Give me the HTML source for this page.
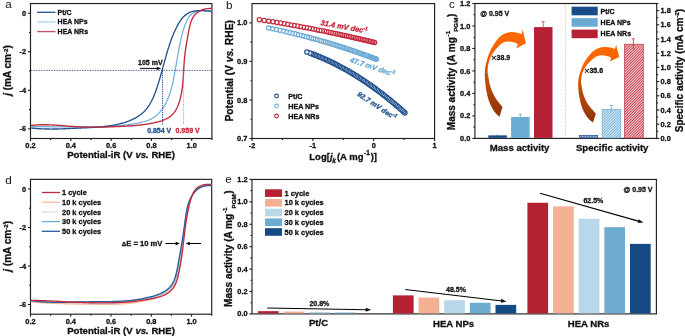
<!DOCTYPE html>
<html><head><meta charset="utf-8"><style>
html,body{margin:0;padding:0;background:#fff;width:685px;height:336px;overflow:hidden}
svg{display:block;will-change:transform}
text{font-family:"Liberation Sans", sans-serif}
text[font-weight="bold"]{stroke:currentColor;stroke-width:0.3px;stroke-linejoin:round}
</style></head><body>
<svg xmlns="http://www.w3.org/2000/svg" width="685" height="336" viewBox="0 0 685 336" font-family='"Liberation Sans", sans-serif'>
<rect width="685" height="336" fill="#fff"/>
<rect x="30.5" y="3.55" width="181.4" height="134.95" fill="none" stroke="#1f1f1f" stroke-width="1.15"/>
<line x1="27.9" y1="13.19" x2="30.5" y2="13.19" stroke="#1f1f1f" stroke-width="1.1" />
<text x="26.1" y="15.74" font-size="7.4" font-weight="bold" text-anchor="end" fill="#111" color="#111" >0</text>
<line x1="29" y1="32.47" x2="30.5" y2="32.47" stroke="#1f1f1f" stroke-width="1.1" />
<line x1="27.9" y1="51.75" x2="30.5" y2="51.75" stroke="#1f1f1f" stroke-width="1.1" />
<text x="26.1" y="54.3" font-size="7.4" font-weight="bold" text-anchor="end" fill="#111" color="#111" >-2</text>
<line x1="29" y1="71.02" x2="30.5" y2="71.02" stroke="#1f1f1f" stroke-width="1.1" />
<line x1="27.9" y1="90.3" x2="30.5" y2="90.3" stroke="#1f1f1f" stroke-width="1.1" />
<text x="26.1" y="92.85" font-size="7.4" font-weight="bold" text-anchor="end" fill="#111" color="#111" >-4</text>
<line x1="29" y1="109.58" x2="30.5" y2="109.58" stroke="#1f1f1f" stroke-width="1.1" />
<line x1="27.9" y1="128.86" x2="30.5" y2="128.86" stroke="#1f1f1f" stroke-width="1.1" />
<text x="26.1" y="131.41" font-size="7.4" font-weight="bold" text-anchor="end" fill="#111" color="#111" >-6</text>
<line x1="30.5" y1="138.5" x2="30.5" y2="141.1" stroke="#1f1f1f" stroke-width="1.1" />
<text x="30.5" y="148.1" font-size="7.4" font-weight="bold" text-anchor="middle" fill="#111" color="#111" >0.2</text>
<line x1="50.66" y1="138.5" x2="50.66" y2="140" stroke="#1f1f1f" stroke-width="1.1" />
<line x1="70.81" y1="138.5" x2="70.81" y2="141.1" stroke="#1f1f1f" stroke-width="1.1" />
<text x="70.81" y="148.1" font-size="7.4" font-weight="bold" text-anchor="middle" fill="#111" color="#111" >0.4</text>
<line x1="90.97" y1="138.5" x2="90.97" y2="140" stroke="#1f1f1f" stroke-width="1.1" />
<line x1="111.12" y1="138.5" x2="111.12" y2="141.1" stroke="#1f1f1f" stroke-width="1.1" />
<text x="111.12" y="148.1" font-size="7.4" font-weight="bold" text-anchor="middle" fill="#111" color="#111" >0.6</text>
<line x1="131.28" y1="138.5" x2="131.28" y2="140" stroke="#1f1f1f" stroke-width="1.1" />
<line x1="151.43" y1="138.5" x2="151.43" y2="141.1" stroke="#1f1f1f" stroke-width="1.1" />
<text x="151.43" y="148.1" font-size="7.4" font-weight="bold" text-anchor="middle" fill="#111" color="#111" >0.8</text>
<line x1="171.59" y1="138.5" x2="171.59" y2="140" stroke="#1f1f1f" stroke-width="1.1" />
<line x1="191.74" y1="138.5" x2="191.74" y2="141.1" stroke="#1f1f1f" stroke-width="1.1" />
<text x="191.74" y="148.1" font-size="7.4" font-weight="bold" text-anchor="middle" fill="#111" color="#111" >1.0</text>
<line x1="211.9" y1="138.5" x2="211.9" y2="140" stroke="#1f1f1f" stroke-width="1.1" />
<text x="121" y="158" font-size="9.6" font-weight="bold" text-anchor="middle" fill="#111" color="#111" >Potential-iR (V <tspan font-style="italic">vs.</tspan> RHE)</text>
<text transform="translate(11.4,70.5) rotate(-90)" font-size="10.0" font-weight="bold" text-anchor="middle" fill="#111" color="#111"><tspan font-style="italic">j</tspan> (mA cm<tspan font-size="6.2" dy="-3.8">-2</tspan><tspan dy="3.8">)</tspan></text>
<text x="5.2" y="8.4" font-size="11.6" font-weight="normal" text-anchor="start" fill="#111" color="#111" >a</text>
<line x1="37.1" y1="12.3" x2="55.5" y2="12.3" stroke="#24548f" stroke-width="1.3" />
<text x="57.6" y="14.8" font-size="7.0" font-weight="bold" text-anchor="start" fill="#111" color="#111" >Pt/C</text>
<line x1="37.1" y1="21.95" x2="55.5" y2="21.95" stroke="#a9d1ea" stroke-width="1.3" />
<text x="57.6" y="24.45" font-size="7.0" font-weight="bold" text-anchor="start" fill="#111" color="#111" >HEA NPs</text>
<line x1="37.1" y1="31.6" x2="55.5" y2="31.6" stroke="#cf4a5a" stroke-width="1.3" />
<text x="57.6" y="34.1" font-size="7.0" font-weight="bold" text-anchor="start" fill="#111" color="#111" >HEA NRs</text>
<path d="M31.10,126.51 L31.96,126.52 L32.82,126.53 L33.68,126.54 L34.54,126.55 L35.40,126.56 L36.26,126.58 L37.12,126.59 L37.98,126.60 L38.84,126.61 L39.70,126.62 L40.57,126.63 L41.43,126.64 L42.29,126.65 L43.15,126.67 L44.01,126.68 L44.87,126.69 L45.73,126.70 L46.59,126.71 L47.45,126.72 L48.31,126.73 L49.17,126.74 L50.04,126.75 L50.90,126.77 L51.76,126.78 L52.62,126.79 L53.48,126.80 L54.34,126.81 L55.20,126.82 L56.06,126.82 L56.92,126.83 L57.78,126.84 L58.65,126.85 L59.51,126.86 L60.37,126.87 L61.23,126.87 L62.09,126.88 L62.95,126.89 L63.81,126.89 L64.67,126.90 L65.53,126.91 L66.40,126.91 L67.26,126.92 L68.12,126.92 L68.98,126.92 L69.84,126.93 L70.70,126.93 L71.56,126.93 L72.42,126.93 L73.28,126.94 L74.14,126.94 L75.01,126.94 L75.87,126.94 L76.73,126.93 L77.59,126.93 L78.45,126.93 L79.31,126.93 L80.17,126.92 L81.03,126.92 L81.89,126.91 L82.75,126.91 L83.61,126.90 L84.47,126.89 L85.33,126.88 L86.19,126.88 L87.05,126.87 L87.91,126.86 L88.77,126.84 L89.63,126.83 L90.49,126.82 L91.35,126.81 L92.21,126.79 L93.07,126.77 L93.93,126.76 L94.79,126.74 L95.65,126.72 L96.51,126.70 L97.37,126.68 L98.23,126.66 L99.09,126.64 L99.95,126.62 L100.81,126.59 L101.67,126.57 L102.53,126.54 L103.39,126.51 L104.24,126.48 L105.10,126.45 L105.96,126.42 L106.82,126.38 L107.68,126.35 L108.54,126.31 L109.40,126.27 L110.25,126.22 L111.11,126.18 L111.97,126.13 L112.83,126.08 L113.69,126.03 L114.54,125.98 L115.40,125.92 L116.26,125.86 L117.12,125.79 L117.97,125.73 L118.83,125.66 L119.69,125.59 L120.55,125.51 L121.40,125.43 L122.26,125.35 L123.12,125.26 L123.97,125.17 L124.83,125.07 L125.68,124.97 L126.54,124.87 L127.40,124.77 L128.25,124.65 L129.11,124.54 L129.96,124.42 L130.82,124.29 L131.68,124.16 L132.53,124.03 L133.39,123.89 L134.24,123.75 L135.10,123.60 L135.95,123.44 L136.81,123.28 L137.66,123.12 L138.52,122.95 L139.37,122.77 L140.22,122.59 L141.07,122.40 L141.92,122.20 L142.77,121.99 L143.61,121.77 L144.45,121.54 L145.28,121.29 L146.10,121.03 L146.92,120.76 L147.73,120.47 L148.52,120.16 L149.31,119.83 L150.09,119.49 L150.86,119.12 L151.61,118.74 L152.35,118.33 L153.08,117.89 L153.79,117.43 L154.49,116.96 L155.17,116.46 L155.84,115.93 L156.49,115.39 L157.13,114.84 L157.76,114.26 L158.37,113.67 L158.97,113.06 L159.55,112.43 L160.11,111.80 L160.67,111.15 L161.20,110.48 L161.73,109.81 L162.23,109.13 L162.73,108.44 L163.21,107.73 L163.67,107.02 L164.12,106.30 L164.56,105.58 L164.99,104.84 L165.40,104.09 L165.80,103.34 L166.19,102.58 L166.57,101.82 L166.93,101.04 L167.29,100.26 L167.63,99.48 L167.96,98.69 L168.28,97.89 L168.60,97.09 L168.90,96.28 L169.19,95.47 L169.48,94.65 L169.76,93.83 L170.02,93.00 L170.29,92.18 L170.54,91.34 L170.78,90.51 L171.02,89.67 L171.25,88.83 L171.48,87.99 L171.70,87.14 L171.91,86.29 L172.12,85.45 L172.32,84.60 L172.52,83.75 L172.71,82.90 L172.90,82.04 L173.08,81.19 L173.27,80.34 L173.44,79.49 L173.62,78.64 L173.79,77.79 L173.96,76.94 L174.12,76.09 L174.29,75.24 L174.45,74.39 L174.60,73.55 L174.76,72.70 L174.91,71.85 L175.07,71.00 L175.22,70.15 L175.36,69.31 L175.51,68.46 L175.66,67.61 L175.80,66.77 L175.95,65.92 L176.09,65.07 L176.23,64.23 L176.37,63.38 L176.52,62.54 L176.66,61.69 L176.80,60.85 L176.94,60.00 L177.08,59.16 L177.23,58.32 L177.37,57.47 L177.51,56.63 L177.66,55.78 L177.80,54.94 L177.95,54.10 L178.10,53.26 L178.25,52.41 L178.40,51.57 L178.56,50.73 L178.71,49.89 L178.87,49.04 L179.03,48.20 L179.19,47.36 L179.36,46.52 L179.53,45.68 L179.70,44.84 L179.87,44.00 L180.05,43.16 L180.23,42.31 L180.42,41.47 L180.61,40.63 L180.80,39.79 L181.00,38.95 L181.20,38.11 L181.40,37.27 L181.61,36.43 L181.83,35.60 L182.05,34.76 L182.27,33.92 L182.50,33.08 L182.74,32.24 L182.98,31.40 L183.22,30.56 L183.48,29.72 L183.73,28.88 L184.00,28.05 L184.27,27.21 L184.55,26.37 L184.83,25.53 L185.13,24.71 L185.43,23.88 L185.75,23.07 L186.08,22.26 L186.43,21.47 L186.79,20.70 L187.17,19.94 L187.56,19.20 L187.98,18.48 L188.42,17.78 L188.88,17.11 L189.36,16.46 L189.87,15.85 L190.41,15.26 L190.97,14.71 L191.56,14.19 L192.18,13.71 L192.83,13.26 L193.52,12.86 L194.23,12.49 L194.97,12.17 L195.74,11.88 L196.53,11.62 L197.34,11.40 L198.18,11.21 L199.03,11.05 L199.90,10.92 L200.78,10.82 L201.67,10.75 L202.58,10.71 L203.49,10.69 L204.41,10.69 L205.33,10.72 L206.25,10.77 L207.18,10.84 L208.10,10.93 L209.02,11.03 L209.93,11.16 L210.84,11.30 L211.74,11.45" fill="none" stroke="#6fb0da" stroke-width="1.25"/>
<path d="M31.10,127.95 L31.94,128.05 L32.77,128.14 L33.61,128.23 L34.44,128.32 L35.28,128.39 L36.11,128.47 L36.95,128.54 L37.78,128.60 L38.62,128.66 L39.45,128.71 L40.29,128.76 L41.12,128.81 L41.96,128.85 L42.80,128.88 L43.63,128.92 L44.47,128.95 L45.30,128.97 L46.14,128.99 L46.98,129.01 L47.81,129.02 L48.65,129.04 L49.49,129.04 L50.32,129.05 L51.16,129.05 L51.99,129.05 L52.83,129.04 L53.67,129.03 L54.50,129.02 L55.34,129.01 L56.18,129.00 L57.01,128.98 L57.85,128.96 L58.69,128.94 L59.52,128.92 L60.36,128.89 L61.20,128.86 L62.03,128.84 L62.87,128.81 L63.71,128.77 L64.54,128.74 L65.38,128.71 L66.21,128.67 L67.05,128.64 L67.89,128.60 L68.72,128.56 L69.56,128.52 L70.39,128.49 L71.23,128.45 L72.06,128.41 L72.90,128.37 L73.73,128.33 L74.57,128.29 L75.40,128.25 L76.24,128.21 L77.07,128.17 L77.91,128.13 L78.74,128.09 L79.58,128.06 L80.41,128.02 L81.24,127.99 L82.08,127.95 L82.91,127.91 L83.74,127.88 L84.58,127.84 L85.41,127.81 L86.24,127.77 L87.08,127.73 L87.91,127.70 L88.74,127.66 L89.57,127.62 L90.40,127.58 L91.24,127.53 L92.07,127.49 L92.90,127.44 L93.73,127.39 L94.56,127.34 L95.39,127.29 L96.23,127.23 L97.06,127.18 L97.89,127.11 L98.72,127.05 L99.55,126.98 L100.38,126.91 L101.21,126.84 L102.04,126.76 L102.87,126.67 L103.70,126.59 L104.53,126.50 L105.36,126.40 L106.19,126.30 L107.02,126.20 L107.85,126.09 L108.67,125.97 L109.50,125.85 L110.33,125.72 L111.16,125.59 L111.99,125.45 L112.82,125.31 L113.65,125.16 L114.48,125.00 L115.30,124.84 L116.13,124.67 L116.96,124.49 L117.79,124.31 L118.61,124.12 L119.44,123.92 L120.27,123.71 L121.09,123.50 L121.92,123.27 L122.74,123.04 L123.55,122.80 L124.37,122.56 L125.18,122.30 L125.99,122.03 L126.79,121.76 L127.59,121.47 L128.38,121.18 L129.17,120.87 L129.96,120.56 L130.73,120.24 L131.50,119.90 L132.27,119.56 L133.02,119.20 L133.77,118.83 L134.51,118.45 L135.24,118.06 L135.96,117.66 L136.68,117.25 L137.38,116.82 L138.07,116.39 L138.76,115.94 L139.43,115.47 L140.09,115.00 L140.74,114.51 L141.38,114.01 L142.00,113.49 L142.61,112.97 L143.21,112.42 L143.80,111.87 L144.37,111.30 L144.93,110.71 L145.47,110.11 L146.00,109.50 L146.51,108.88 L147.02,108.24 L147.51,107.59 L147.99,106.93 L148.45,106.26 L148.91,105.58 L149.35,104.89 L149.78,104.18 L150.20,103.47 L150.61,102.75 L151.02,102.02 L151.41,101.28 L151.79,100.54 L152.16,99.79 L152.53,99.03 L152.88,98.26 L153.23,97.49 L153.57,96.71 L153.90,95.93 L154.22,95.14 L154.54,94.35 L154.85,93.55 L155.16,92.75 L155.46,91.95 L155.75,91.15 L156.04,90.34 L156.32,89.53 L156.60,88.72 L156.87,87.91 L157.14,87.10 L157.41,86.29 L157.67,85.48 L157.93,84.67 L158.19,83.86 L158.44,83.05 L158.69,82.24 L158.94,81.43 L159.18,80.62 L159.42,79.81 L159.66,79.00 L159.90,78.19 L160.13,77.38 L160.36,76.57 L160.59,75.76 L160.82,74.95 L161.05,74.14 L161.27,73.33 L161.50,72.52 L161.72,71.72 L161.94,70.91 L162.16,70.10 L162.38,69.29 L162.60,68.49 L162.82,67.68 L163.04,66.88 L163.26,66.07 L163.47,65.27 L163.69,64.46 L163.91,63.66 L164.13,62.85 L164.35,62.05 L164.57,61.25 L164.79,60.45 L165.01,59.65 L165.23,58.84 L165.45,58.04 L165.68,57.24 L165.90,56.45 L166.13,55.65 L166.36,54.85 L166.59,54.05 L166.82,53.26 L167.06,52.46 L167.29,51.66 L167.53,50.87 L167.77,50.08 L168.02,49.28 L168.27,48.49 L168.52,47.70 L168.77,46.91 L169.03,46.12 L169.29,45.33 L169.55,44.54 L169.82,43.75 L170.09,42.97 L170.36,42.18 L170.64,41.40 L170.92,40.61 L171.21,39.83 L171.50,39.05 L171.80,38.27 L172.10,37.49 L172.41,36.71 L172.72,35.93 L173.03,35.16 L173.36,34.38 L173.68,33.61 L174.02,32.83 L174.35,32.06 L174.70,31.29 L175.05,30.52 L175.40,29.75 L175.77,28.98 L176.13,28.21 L176.51,27.45 L176.89,26.69 L177.28,25.93 L177.68,25.18 L178.09,24.43 L178.51,23.69 L178.94,22.96 L179.37,22.24 L179.82,21.53 L180.28,20.84 L180.76,20.16 L181.24,19.49 L181.74,18.84 L182.26,18.21 L182.78,17.60 L183.33,17.01 L183.88,16.43 L184.46,15.89 L185.05,15.36 L185.66,14.86 L186.29,14.39 L186.93,13.94 L187.59,13.53 L188.28,13.14 L188.98,12.78 L189.70,12.46 L190.45,12.17 L191.21,11.90 L191.98,11.67 L192.77,11.46 L193.58,11.27 L194.39,11.11 L195.22,10.98 L196.06,10.87 L196.91,10.78 L197.77,10.70 L198.63,10.65 L199.51,10.62 L200.38,10.60 L201.26,10.60 L202.14,10.62 L203.02,10.64 L203.91,10.68 L204.79,10.74 L205.67,10.80 L206.55,10.87 L207.42,10.95 L208.28,11.04 L209.14,11.13 L210.00,11.23 L210.84,11.33 L211.67,11.43" fill="none" stroke="#24548f" stroke-width="1.35"/>
<path d="M31.09,125.42 L31.98,125.31 L32.88,125.21 L33.77,125.13 L34.66,125.05 L35.56,124.98 L36.45,124.91 L37.34,124.86 L38.23,124.82 L39.12,124.78 L40.01,124.75 L40.90,124.72 L41.79,124.71 L42.68,124.70 L43.57,124.70 L44.46,124.70 L45.35,124.71 L46.24,124.72 L47.13,124.74 L48.01,124.77 L48.90,124.80 L49.79,124.83 L50.67,124.87 L51.56,124.91 L52.45,124.96 L53.33,125.01 L54.22,125.07 L55.10,125.12 L55.99,125.18 L56.88,125.24 L57.76,125.31 L58.65,125.37 L59.53,125.44 L60.42,125.51 L61.30,125.58 L62.19,125.65 L63.07,125.72 L63.96,125.79 L64.84,125.87 L65.73,125.94 L66.61,126.01 L67.50,126.08 L68.38,126.15 L69.27,126.22 L70.15,126.28 L71.04,126.35 L71.93,126.41 L72.81,126.47 L73.70,126.53 L74.58,126.59 L75.47,126.64 L76.36,126.69 L77.24,126.74 L78.13,126.78 L79.02,126.82 L79.91,126.86 L80.79,126.90 L81.68,126.93 L82.57,126.96 L83.46,126.99 L84.35,127.02 L85.23,127.04 L86.12,127.07 L87.01,127.08 L87.90,127.10 L88.79,127.12 L89.68,127.13 L90.56,127.14 L91.45,127.15 L92.34,127.15 L93.23,127.16 L94.12,127.16 L95.01,127.16 L95.90,127.15 L96.78,127.15 L97.67,127.14 L98.56,127.14 L99.45,127.12 L100.34,127.11 L101.23,127.10 L102.12,127.08 L103.00,127.07 L103.89,127.05 L104.78,127.03 L105.67,127.00 L106.56,126.98 L107.45,126.96 L108.33,126.93 L109.22,126.90 L110.11,126.87 L111.00,126.84 L111.88,126.81 L112.77,126.77 L113.66,126.74 L114.55,126.70 L115.43,126.67 L116.32,126.63 L117.21,126.59 L118.09,126.55 L118.98,126.50 L119.87,126.46 L120.75,126.42 L121.64,126.37 L122.52,126.33 L123.41,126.28 L124.29,126.23 L125.18,126.18 L126.06,126.13 L126.95,126.08 L127.83,126.03 L128.71,125.97 L129.60,125.92 L130.48,125.86 L131.36,125.79 L132.25,125.73 L133.13,125.66 L134.01,125.59 L134.90,125.52 L135.78,125.44 L136.66,125.36 L137.55,125.28 L138.43,125.19 L139.31,125.10 L140.20,125.00 L141.08,124.90 L141.96,124.79 L142.85,124.68 L143.73,124.57 L144.62,124.45 L145.50,124.32 L146.39,124.19 L147.27,124.05 L148.15,123.90 L149.04,123.75 L149.92,123.60 L150.81,123.43 L151.70,123.26 L152.58,123.08 L153.47,122.90 L154.36,122.70 L155.24,122.50 L156.13,122.30 L157.02,122.08 L157.90,121.85 L158.79,121.62 L159.67,121.37 L160.54,121.11 L161.41,120.84 L162.27,120.55 L163.12,120.24 L163.95,119.92 L164.78,119.58 L165.59,119.22 L166.38,118.85 L167.16,118.45 L167.91,118.02 L168.65,117.58 L169.36,117.11 L170.05,116.61 L170.72,116.08 L171.36,115.53 L171.97,114.96 L172.57,114.36 L173.14,113.73 L173.68,113.09 L174.21,112.42 L174.71,111.73 L175.19,111.02 L175.65,110.29 L176.09,109.55 L176.52,108.79 L176.92,108.01 L177.30,107.21 L177.67,106.41 L178.02,105.59 L178.35,104.75 L178.67,103.91 L178.97,103.06 L179.26,102.19 L179.53,101.32 L179.79,100.44 L180.03,99.56 L180.27,98.67 L180.49,97.77 L180.69,96.87 L180.89,95.97 L181.08,95.07 L181.25,94.17 L181.42,93.26 L181.58,92.36 L181.73,91.46 L181.87,90.56 L182.00,89.66 L182.13,88.77 L182.25,87.87 L182.36,86.98 L182.47,86.09 L182.57,85.20 L182.66,84.31 L182.75,83.42 L182.83,82.54 L182.91,81.65 L182.98,80.77 L183.06,79.88 L183.12,79.00 L183.19,78.12 L183.25,77.24 L183.30,76.36 L183.36,75.48 L183.41,74.60 L183.47,73.73 L183.52,72.85 L183.57,71.97 L183.62,71.10 L183.66,70.22 L183.71,69.35 L183.76,68.47 L183.81,67.60 L183.87,66.72 L183.92,65.85 L183.98,64.98 L184.03,64.11 L184.09,63.23 L184.16,62.36 L184.22,61.49 L184.29,60.61 L184.37,59.74 L184.44,58.87 L184.53,57.99 L184.61,57.12 L184.71,56.25 L184.81,55.37 L184.91,54.50 L185.02,53.63 L185.13,52.75 L185.24,51.87 L185.36,51.00 L185.49,50.12 L185.61,49.24 L185.74,48.37 L185.88,47.49 L186.01,46.61 L186.15,45.72 L186.30,44.84 L186.44,43.96 L186.59,43.08 L186.74,42.19 L186.89,41.30 L187.05,40.42 L187.20,39.53 L187.36,38.64 L187.52,37.74 L187.68,36.85 L187.84,35.96 L188.00,35.06 L188.16,34.16 L188.32,33.26 L188.48,32.36 L188.65,31.46 L188.81,30.55 L188.98,29.65 L189.16,28.75 L189.34,27.86 L189.54,26.97 L189.74,26.09 L189.96,25.21 L190.19,24.35 L190.43,23.49 L190.70,22.65 L190.98,21.82 L191.28,21.00 L191.60,20.20 L191.95,19.42 L192.32,18.65 L192.72,17.90 L193.15,17.17 L193.61,16.46 L194.10,15.78 L194.62,15.12 L195.17,14.48 L195.76,13.88 L196.39,13.30 L197.06,12.74 L197.76,12.22 L198.49,11.73 L199.24,11.27 L200.03,10.84 L200.84,10.44 L201.67,10.08 L202.52,9.75 L203.39,9.46 L204.28,9.21 L205.18,8.99 L206.08,8.81 L207.00,8.67 L207.93,8.57 L208.86,8.52 L209.79,8.50 L210.72,8.53 L211.64,8.60" fill="none" stroke="#c4283c" stroke-width="1.35"/>
<line x1="31" y1="70.4" x2="211.4" y2="70.4" stroke="#34477a" stroke-width="0.85" stroke-dasharray="1.4,1.15"/>
<line x1="162.5" y1="70.4" x2="162.5" y2="124.9" stroke="#1d427e" stroke-width="0.95" stroke-dasharray="1.2,1.1"/>
<line x1="183.6" y1="70.4" x2="183.6" y2="124.9" stroke="#e06070" stroke-width="0.85" stroke-dasharray="1.0,1.1"/>
<line x1="140" y1="68.4" x2="158" y2="68.4" stroke="#000" stroke-width="0.95" />
<path d="M161.3,68.4 L156.8,66.7 L156.8,70.1 Z" fill="#000"/>
<text x="150.3" y="64.9" font-size="7.0" font-weight="bold" text-anchor="middle" fill="#111" color="#111" >105 mV</text>
<text x="159.2" y="132.7" font-size="7.0" font-weight="bold" text-anchor="middle" fill="#24548f" color="#24548f" >0.854 V</text>
<text x="187.6" y="132.7" font-size="7.0" font-weight="bold" text-anchor="middle" fill="#c4283c" color="#c4283c" >0.959 V</text>
<rect x="252" y="3.6" width="182.6" height="134.9" fill="none" stroke="#1f1f1f" stroke-width="1.15"/>
<line x1="249.4" y1="138.5" x2="252" y2="138.5" stroke="#1f1f1f" stroke-width="1.1" />
<text x="247.4" y="141.05" font-size="7.4" font-weight="bold" text-anchor="end" fill="#111" color="#111" >0.7</text>
<line x1="250.5" y1="119.23" x2="252" y2="119.23" stroke="#1f1f1f" stroke-width="1.1" />
<line x1="249.4" y1="99.96" x2="252" y2="99.96" stroke="#1f1f1f" stroke-width="1.1" />
<text x="247.4" y="102.51" font-size="7.4" font-weight="bold" text-anchor="end" fill="#111" color="#111" >0.8</text>
<line x1="250.5" y1="80.69" x2="252" y2="80.69" stroke="#1f1f1f" stroke-width="1.1" />
<line x1="249.4" y1="61.41" x2="252" y2="61.41" stroke="#1f1f1f" stroke-width="1.1" />
<text x="247.4" y="63.96" font-size="7.4" font-weight="bold" text-anchor="end" fill="#111" color="#111" >0.9</text>
<line x1="250.5" y1="42.14" x2="252" y2="42.14" stroke="#1f1f1f" stroke-width="1.1" />
<line x1="249.4" y1="22.87" x2="252" y2="22.87" stroke="#1f1f1f" stroke-width="1.1" />
<text x="247.4" y="25.42" font-size="7.4" font-weight="bold" text-anchor="end" fill="#111" color="#111" >1.0</text>
<line x1="252" y1="138.5" x2="252" y2="141.1" stroke="#1f1f1f" stroke-width="1.1" />
<text x="252" y="148.4" font-size="7.4" font-weight="bold" text-anchor="middle" fill="#111" color="#111" >-2</text>
<line x1="282.43" y1="138.5" x2="282.43" y2="140" stroke="#1f1f1f" stroke-width="1.1" />
<line x1="312.87" y1="138.5" x2="312.87" y2="141.1" stroke="#1f1f1f" stroke-width="1.1" />
<text x="312.87" y="148.4" font-size="7.4" font-weight="bold" text-anchor="middle" fill="#111" color="#111" >-1</text>
<line x1="343.3" y1="138.5" x2="343.3" y2="140" stroke="#1f1f1f" stroke-width="1.1" />
<line x1="373.73" y1="138.5" x2="373.73" y2="141.1" stroke="#1f1f1f" stroke-width="1.1" />
<text x="373.73" y="148.4" font-size="7.4" font-weight="bold" text-anchor="middle" fill="#111" color="#111" >0</text>
<line x1="404.17" y1="138.5" x2="404.17" y2="140" stroke="#1f1f1f" stroke-width="1.1" />
<line x1="434.6" y1="138.5" x2="434.6" y2="141.1" stroke="#1f1f1f" stroke-width="1.1" />
<text x="434.6" y="148.4" font-size="7.4" font-weight="bold" text-anchor="middle" fill="#111" color="#111" >1</text>
<text x="309.3" y="160.3" font-size="9.5" font-weight="bold" text-anchor="start" fill="#111" color="#111" >Log[<tspan font-style="italic">j</tspan><tspan font-size="6.6" dy="2.6" dx="-0.2" font-style="italic">k</tspan><tspan dy="-2.6" dx="0.9">(A mg</tspan><tspan font-size="6.4" dy="-5.0" dx="0.6">-1</tspan><tspan dy="5.0" dx="0.9">)]</tspan></text>
<text transform="translate(232.9,70.8) rotate(-90)" font-size="10.25" font-weight="bold" text-anchor="middle" fill="#111" color="#111">Potential (V <tspan font-style="italic">vs.</tspan> RHE)</text>
<text x="226" y="8.7" font-size="11.6" font-weight="normal" text-anchor="start" fill="#111" color="#111" >b</text>
<g fill="#fff" stroke="#c4283c" stroke-width="1.25"><circle cx="374.60" cy="42.50" r="2.12"/><circle cx="372.85" cy="42.07" r="2.12"/><circle cx="371.31" cy="41.70" r="2.12"/><circle cx="369.76" cy="41.33" r="2.12"/><circle cx="368.19" cy="40.96" r="2.12"/><circle cx="366.60" cy="40.58" r="2.12"/><circle cx="365.00" cy="40.20" r="2.12"/><circle cx="363.39" cy="39.82" r="2.12"/><circle cx="361.76" cy="39.44" r="2.12"/><circle cx="360.11" cy="39.06" r="2.12"/><circle cx="358.44" cy="38.67" r="2.12"/><circle cx="356.76" cy="38.29" r="2.12"/><circle cx="355.06" cy="37.90" r="2.12"/><circle cx="353.34" cy="37.51" r="2.12"/><circle cx="351.61" cy="37.12" r="2.12"/><circle cx="349.86" cy="36.73" r="2.12"/><circle cx="348.09" cy="36.33" r="2.12"/><circle cx="346.30" cy="35.94" r="2.12"/><circle cx="344.50" cy="35.54" r="2.12"/><circle cx="342.67" cy="35.14" r="2.12"/><circle cx="340.83" cy="34.74" r="2.12"/><circle cx="338.97" cy="34.34" r="2.12"/><circle cx="337.09" cy="33.93" r="2.12"/><circle cx="335.19" cy="33.53" r="2.12"/><circle cx="333.23" cy="33.12" r="2.12"/><circle cx="331.20" cy="32.69" r="2.12"/><circle cx="329.10" cy="32.25" r="2.12"/><circle cx="326.92" cy="31.80" r="2.12"/><circle cx="324.67" cy="31.34" r="2.12"/><circle cx="322.34" cy="30.87" r="2.12"/><circle cx="319.92" cy="30.38" r="2.12"/><circle cx="317.42" cy="29.88" r="2.12"/><circle cx="314.82" cy="29.37" r="2.12"/><circle cx="312.14" cy="28.85" r="2.12"/><circle cx="309.36" cy="28.31" r="2.12"/><circle cx="306.48" cy="27.76" r="2.12"/><circle cx="303.50" cy="27.20" r="2.12"/><circle cx="300.42" cy="26.63" r="2.12"/><circle cx="297.26" cy="26.05" r="2.12"/><circle cx="294.04" cy="25.46" r="2.12"/><circle cx="290.76" cy="24.88" r="2.12"/><circle cx="287.41" cy="24.29" r="2.12"/><circle cx="283.99" cy="23.69" r="2.12"/><circle cx="280.50" cy="23.10" r="2.12"/><circle cx="276.80" cy="22.48" r="2.12"/><circle cx="272.86" cy="21.83" r="2.12"/><circle cx="268.65" cy="21.15" r="2.12"/><circle cx="264.18" cy="20.44" r="2.12"/><circle cx="259.40" cy="19.70" r="2.12"/></g>
<g fill="#fff" stroke="#6aaad6" stroke-width="1.2"><circle cx="376.40" cy="59.20" r="2.12"/><circle cx="375.86" cy="59.00" r="2.12"/><circle cx="374.84" cy="58.61" r="2.12"/><circle cx="373.81" cy="58.22" r="2.12"/><circle cx="372.76" cy="57.83" r="2.12"/><circle cx="371.70" cy="57.44" r="2.12"/><circle cx="370.63" cy="57.04" r="2.12"/><circle cx="369.55" cy="56.65" r="2.12"/><circle cx="368.46" cy="56.25" r="2.12"/><circle cx="367.36" cy="55.84" r="2.12"/><circle cx="366.24" cy="55.44" r="2.12"/><circle cx="365.11" cy="55.03" r="2.12"/><circle cx="363.97" cy="54.62" r="2.12"/><circle cx="362.82" cy="54.21" r="2.12"/><circle cx="361.65" cy="53.80" r="2.12"/><circle cx="360.47" cy="53.38" r="2.12"/><circle cx="359.28" cy="52.96" r="2.12"/><circle cx="358.08" cy="52.54" r="2.12"/><circle cx="356.86" cy="52.12" r="2.12"/><circle cx="355.63" cy="51.69" r="2.12"/><circle cx="354.38" cy="51.27" r="2.12"/><circle cx="353.13" cy="50.84" r="2.12"/><circle cx="351.85" cy="50.41" r="2.12"/><circle cx="350.57" cy="49.97" r="2.12"/><circle cx="349.27" cy="49.54" r="2.12"/><circle cx="347.95" cy="49.10" r="2.12"/><circle cx="346.63" cy="48.66" r="2.12"/><circle cx="345.28" cy="48.22" r="2.12"/><circle cx="343.92" cy="47.78" r="2.12"/><circle cx="342.55" cy="47.34" r="2.12"/><circle cx="341.17" cy="46.89" r="2.12"/><circle cx="339.76" cy="46.44" r="2.12"/><circle cx="338.32" cy="45.98" r="2.12"/><circle cx="336.84" cy="45.52" r="2.12"/><circle cx="335.32" cy="45.05" r="2.12"/><circle cx="333.77" cy="44.57" r="2.12"/><circle cx="332.17" cy="44.08" r="2.12"/><circle cx="330.53" cy="43.58" r="2.12"/><circle cx="328.85" cy="43.07" r="2.12"/><circle cx="327.13" cy="42.56" r="2.12"/><circle cx="325.37" cy="42.04" r="2.12"/><circle cx="323.56" cy="41.51" r="2.12"/><circle cx="321.70" cy="40.97" r="2.12"/><circle cx="319.79" cy="40.42" r="2.12"/><circle cx="317.84" cy="39.87" r="2.12"/><circle cx="315.83" cy="39.31" r="2.12"/><circle cx="313.78" cy="38.74" r="2.12"/><circle cx="311.67" cy="38.16" r="2.12"/><circle cx="309.51" cy="37.58" r="2.12"/><circle cx="307.28" cy="36.99" r="2.12"/><circle cx="304.97" cy="36.38" r="2.12"/><circle cx="302.56" cy="35.76" r="2.12"/><circle cx="300.07" cy="35.12" r="2.12"/><circle cx="297.48" cy="34.48" r="2.12"/><circle cx="294.81" cy="33.82" r="2.12"/><circle cx="292.04" cy="33.15" r="2.12"/><circle cx="289.18" cy="32.47" r="2.12"/><circle cx="286.22" cy="31.79" r="2.12"/><circle cx="283.11" cy="31.08" r="2.12"/><circle cx="279.81" cy="30.35" r="2.12"/><circle cx="276.30" cy="29.59" r="2.12"/><circle cx="272.56" cy="28.81" r="2.12"/><circle cx="268.60" cy="28.00" r="2.12"/></g>
<g fill="#fff" stroke="#24548f" stroke-width="1.25"><circle cx="404.90" cy="112.80" r="2.2"/><circle cx="403.68" cy="111.71" r="2.2"/><circle cx="402.30" cy="110.48" r="2.2"/><circle cx="400.92" cy="109.27" r="2.2"/><circle cx="399.53" cy="108.06" r="2.2"/><circle cx="398.15" cy="106.87" r="2.2"/><circle cx="396.77" cy="105.68" r="2.2"/><circle cx="395.38" cy="104.51" r="2.2"/><circle cx="394.00" cy="103.35" r="2.2"/><circle cx="392.61" cy="102.20" r="2.2"/><circle cx="391.23" cy="101.05" r="2.2"/><circle cx="389.84" cy="99.92" r="2.2"/><circle cx="388.46" cy="98.80" r="2.2"/><circle cx="387.07" cy="97.69" r="2.2"/><circle cx="385.68" cy="96.59" r="2.2"/><circle cx="384.29" cy="95.50" r="2.2"/><circle cx="382.90" cy="94.42" r="2.2"/><circle cx="381.51" cy="93.35" r="2.2"/><circle cx="380.12" cy="92.29" r="2.2"/><circle cx="378.73" cy="91.24" r="2.2"/><circle cx="377.34" cy="90.20" r="2.2"/><circle cx="375.95" cy="89.18" r="2.2"/><circle cx="374.56" cy="88.16" r="2.2"/><circle cx="373.16" cy="87.16" r="2.2"/><circle cx="371.77" cy="86.16" r="2.2"/><circle cx="370.38" cy="85.18" r="2.2"/><circle cx="368.98" cy="84.20" r="2.2"/><circle cx="367.59" cy="83.24" r="2.2"/><circle cx="366.19" cy="82.29" r="2.2"/><circle cx="364.80" cy="81.34" r="2.2"/><circle cx="363.40" cy="80.41" r="2.2"/><circle cx="362.00" cy="79.49" r="2.2"/><circle cx="360.60" cy="78.58" r="2.2"/><circle cx="359.21" cy="77.68" r="2.2"/><circle cx="357.81" cy="76.79" r="2.2"/><circle cx="356.41" cy="75.92" r="2.2"/><circle cx="355.01" cy="75.05" r="2.2"/><circle cx="353.61" cy="74.19" r="2.2"/><circle cx="352.20" cy="73.35" r="2.2"/><circle cx="350.80" cy="72.51" r="2.2"/><circle cx="349.40" cy="71.69" r="2.2"/><circle cx="348.00" cy="70.87" r="2.2"/><circle cx="346.59" cy="70.07" r="2.2"/><circle cx="345.19" cy="69.28" r="2.2"/><circle cx="343.78" cy="68.50" r="2.2"/><circle cx="342.38" cy="67.73" r="2.2"/><circle cx="340.97" cy="66.97" r="2.2"/><circle cx="339.57" cy="66.22" r="2.2"/><circle cx="338.16" cy="65.49" r="2.2"/><circle cx="336.75" cy="64.76" r="2.2"/><circle cx="335.34" cy="64.04" r="2.2"/><circle cx="333.94" cy="63.34" r="2.2"/><circle cx="332.53" cy="62.65" r="2.2"/><circle cx="331.12" cy="61.96" r="2.2"/><circle cx="329.71" cy="61.29" r="2.2"/><circle cx="328.29" cy="60.63" r="2.2"/><circle cx="326.88" cy="59.98" r="2.2"/><circle cx="325.47" cy="59.34" r="2.2"/><circle cx="324.06" cy="58.72" r="2.2"/><circle cx="322.65" cy="58.10" r="2.2"/><circle cx="321.23" cy="57.50" r="2.2"/><circle cx="319.82" cy="56.90" r="2.2"/><circle cx="318.40" cy="56.32" r="2.2"/><circle cx="316.99" cy="55.75" r="2.2"/><circle cx="315.57" cy="55.19" r="2.2"/><circle cx="314.15" cy="54.64" r="2.2"/><circle cx="312.74" cy="54.10" r="2.2"/><circle cx="311.32" cy="53.57" r="2.2"/><circle cx="309.90" cy="53.05" r="2.2"/><circle cx="306.90" cy="52.00" r="2.2"/></g>
<text transform="translate(320.2,25.1) rotate(10)" font-size="7.5" font-weight="bold" font-style="italic" fill="#c4283c" color="#c4283c">31.4 mV dec<tspan font-size="5" dy="-3" dx="-0.2">-1</tspan></text>
<text transform="translate(349.5,61.9) rotate(18.5)" font-size="7.4" font-weight="bold" font-style="italic" fill="#6aaad6" color="#6aaad6">47.7 mV dec<tspan font-size="5" dy="-3" dx="-0.2">-1</tspan></text>
<text transform="translate(356.8,95.3) rotate(33.6)" font-size="7.1" font-weight="bold" font-style="italic" fill="#24548f" color="#24548f">92.7 mV dec<tspan font-size="5" dy="-3" dx="-0.2">-1</tspan></text>
<circle cx="276.5" cy="96.0" r="1.9" fill="#fff" stroke="#24548f" stroke-width="1.1"/>
<text x="288.2" y="98.5" font-size="7.2" font-weight="bold" text-anchor="start" fill="#111" color="#111" >Pt/C</text>
<circle cx="276.5" cy="106.0" r="1.9" fill="#fff" stroke="#7bb6dc" stroke-width="1.1"/>
<text x="288.2" y="108.5" font-size="7.2" font-weight="bold" text-anchor="start" fill="#111" color="#111" >HEA NPs</text>
<circle cx="276.5" cy="116.0" r="1.9" fill="#fff" stroke="#c4283c" stroke-width="1.1"/>
<text x="288.2" y="118.5" font-size="7.2" font-weight="bold" text-anchor="start" fill="#111" color="#111" >HEA NRs</text>
<rect x="474.9" y="3.5" width="181.8" height="134.9" fill="none" stroke="#1f1f1f" stroke-width="1.15"/>
<line x1="472.3" y1="138.4" x2="474.9" y2="138.4" stroke="#1f1f1f" stroke-width="1.1" />
<text x="470.3" y="140.95" font-size="7.4" font-weight="bold" text-anchor="end" fill="#111" color="#111" >0.0</text>
<line x1="473.4" y1="127.16" x2="474.9" y2="127.16" stroke="#1f1f1f" stroke-width="1.1" />
<line x1="472.3" y1="115.92" x2="474.9" y2="115.92" stroke="#1f1f1f" stroke-width="1.1" />
<text x="470.3" y="118.47" font-size="7.4" font-weight="bold" text-anchor="end" fill="#111" color="#111" >0.2</text>
<line x1="473.4" y1="104.68" x2="474.9" y2="104.68" stroke="#1f1f1f" stroke-width="1.1" />
<line x1="472.3" y1="93.43" x2="474.9" y2="93.43" stroke="#1f1f1f" stroke-width="1.1" />
<text x="470.3" y="95.98" font-size="7.4" font-weight="bold" text-anchor="end" fill="#111" color="#111" >0.4</text>
<line x1="473.4" y1="82.19" x2="474.9" y2="82.19" stroke="#1f1f1f" stroke-width="1.1" />
<line x1="472.3" y1="70.95" x2="474.9" y2="70.95" stroke="#1f1f1f" stroke-width="1.1" />
<text x="470.3" y="73.5" font-size="7.4" font-weight="bold" text-anchor="end" fill="#111" color="#111" >0.6</text>
<line x1="473.4" y1="59.71" x2="474.9" y2="59.71" stroke="#1f1f1f" stroke-width="1.1" />
<line x1="472.3" y1="48.47" x2="474.9" y2="48.47" stroke="#1f1f1f" stroke-width="1.1" />
<text x="470.3" y="51.02" font-size="7.4" font-weight="bold" text-anchor="end" fill="#111" color="#111" >0.8</text>
<line x1="473.4" y1="37.22" x2="474.9" y2="37.22" stroke="#1f1f1f" stroke-width="1.1" />
<line x1="472.3" y1="25.98" x2="474.9" y2="25.98" stroke="#1f1f1f" stroke-width="1.1" />
<text x="470.3" y="28.53" font-size="7.4" font-weight="bold" text-anchor="end" fill="#111" color="#111" >1.0</text>
<line x1="473.4" y1="14.74" x2="474.9" y2="14.74" stroke="#1f1f1f" stroke-width="1.1" />
<line x1="472.3" y1="3.5" x2="474.9" y2="3.5" stroke="#1f1f1f" stroke-width="1.1" />
<text x="470.3" y="6.05" font-size="7.4" font-weight="bold" text-anchor="end" fill="#111" color="#111" >1.2</text>
<line x1="656.7" y1="138.4" x2="659.3" y2="138.4" stroke="#1f1f1f" stroke-width="1.1" />
<text x="660.5" y="141" font-size="7.4" font-weight="bold" text-anchor="start" fill="#111" color="#111" >0.0</text>
<line x1="656.7" y1="131.3" x2="658.2" y2="131.3" stroke="#1f1f1f" stroke-width="1.1" />
<line x1="656.7" y1="124.2" x2="659.3" y2="124.2" stroke="#1f1f1f" stroke-width="1.1" />
<text x="660.5" y="126.8" font-size="7.4" font-weight="bold" text-anchor="start" fill="#111" color="#111" >0.2</text>
<line x1="656.7" y1="117.1" x2="658.2" y2="117.1" stroke="#1f1f1f" stroke-width="1.1" />
<line x1="656.7" y1="110" x2="659.3" y2="110" stroke="#1f1f1f" stroke-width="1.1" />
<text x="660.5" y="112.6" font-size="7.4" font-weight="bold" text-anchor="start" fill="#111" color="#111" >0.4</text>
<line x1="656.7" y1="102.9" x2="658.2" y2="102.9" stroke="#1f1f1f" stroke-width="1.1" />
<line x1="656.7" y1="95.8" x2="659.3" y2="95.8" stroke="#1f1f1f" stroke-width="1.1" />
<text x="660.5" y="98.4" font-size="7.4" font-weight="bold" text-anchor="start" fill="#111" color="#111" >0.6</text>
<line x1="656.7" y1="88.7" x2="658.2" y2="88.7" stroke="#1f1f1f" stroke-width="1.1" />
<line x1="656.7" y1="81.6" x2="659.3" y2="81.6" stroke="#1f1f1f" stroke-width="1.1" />
<text x="660.5" y="84.2" font-size="7.4" font-weight="bold" text-anchor="start" fill="#111" color="#111" >0.8</text>
<line x1="656.7" y1="74.5" x2="658.2" y2="74.5" stroke="#1f1f1f" stroke-width="1.1" />
<line x1="656.7" y1="67.4" x2="659.3" y2="67.4" stroke="#1f1f1f" stroke-width="1.1" />
<text x="660.5" y="70" font-size="7.4" font-weight="bold" text-anchor="start" fill="#111" color="#111" >1.0</text>
<line x1="656.7" y1="60.3" x2="658.2" y2="60.3" stroke="#1f1f1f" stroke-width="1.1" />
<line x1="656.7" y1="53.2" x2="659.3" y2="53.2" stroke="#1f1f1f" stroke-width="1.1" />
<text x="660.5" y="55.8" font-size="7.4" font-weight="bold" text-anchor="start" fill="#111" color="#111" >1.2</text>
<line x1="656.7" y1="46.1" x2="658.2" y2="46.1" stroke="#1f1f1f" stroke-width="1.1" />
<line x1="656.7" y1="39" x2="659.3" y2="39" stroke="#1f1f1f" stroke-width="1.1" />
<text x="660.5" y="41.6" font-size="7.4" font-weight="bold" text-anchor="start" fill="#111" color="#111" >1.4</text>
<line x1="656.7" y1="31.9" x2="658.2" y2="31.9" stroke="#1f1f1f" stroke-width="1.1" />
<line x1="656.7" y1="24.8" x2="659.3" y2="24.8" stroke="#1f1f1f" stroke-width="1.1" />
<text x="660.5" y="27.4" font-size="7.4" font-weight="bold" text-anchor="start" fill="#111" color="#111" >1.6</text>
<line x1="656.7" y1="17.7" x2="658.2" y2="17.7" stroke="#1f1f1f" stroke-width="1.1" />
<line x1="656.7" y1="10.6" x2="659.3" y2="10.6" stroke="#1f1f1f" stroke-width="1.1" />
<text x="660.5" y="13.2" font-size="7.4" font-weight="bold" text-anchor="start" fill="#111" color="#111" >1.8</text>
<line x1="656.7" y1="3.5" x2="658.2" y2="3.5" stroke="#1f1f1f" stroke-width="1.1" />
<text x="448.9" y="8.3" font-size="11.6" font-weight="normal" text-anchor="start" fill="#111" color="#111" >c</text>
<text transform="translate(454.5,130.2) rotate(-90)" font-size="10.0" font-weight="bold" text-anchor="start" fill="#111" color="#111">Mass activity (A mg<tspan font-size="6.2" dy="-4.8" dx="0.8">-1</tspan><tspan font-size="6.2" dy="8.2" dx="-0.9">PGM</tspan><tspan dy="-3.4" dx="0.6">)</tspan></text>
<text transform="translate(683.0,70.55) rotate(-90)" font-size="10.0" font-weight="bold" text-anchor="middle" fill="#111" color="#111">Specific activity (mA cm<tspan font-size="6" dy="-3.6">-2</tspan><tspan dy="3.6">)</tspan></text>
<text x="519.6" y="150.9" font-size="9.6" font-weight="bold" text-anchor="middle" fill="#111" color="#111" >Mass activity</text>
<text x="612.2" y="150.9" font-size="9.6" font-weight="bold" text-anchor="middle" fill="#111" color="#111" >Specific activity</text>
<text x="480.2" y="16" font-size="7.0" font-weight="bold" text-anchor="start" fill="#111" color="#111" >@ 0.95 V</text>
<line x1="565.4" y1="4" x2="565.4" y2="137.9" stroke="#f08a6a" stroke-width="0.7" stroke-dasharray="1,1.3"/>
<rect x="488.3" y="135.36" width="18.5" height="2.54" fill="#1a4c87" />
<rect x="511.1" y="117" width="18.5" height="20.9" fill="#6aacd3" />
<rect x="534" y="27.1" width="18.5" height="110.8" fill="#b52035" />
<line x1="520.3" y1="114.1" x2="520.3" y2="117.5" stroke="#6aacd3" stroke-width="0.9" />
<line x1="518.9" y1="114.1" x2="521.8" y2="114.1" stroke="#6aacd3" stroke-width="0.9" />
<line x1="543.2" y1="21.8" x2="543.2" y2="27.5" stroke="#c85060" stroke-width="0.9" />
<line x1="541.7" y1="21.8" x2="544.7" y2="21.8" stroke="#c85060" stroke-width="0.9" />
<line x1="497.5" y1="134.6" x2="497.5" y2="135.5" stroke="#1a4c87" stroke-width="0.9" />
<defs><pattern id="hDB" patternUnits="userSpaceOnUse" width="1.9" height="1.9" patternTransform="rotate(45)"><rect width="1.9" height="1.9" fill="#fff"/><rect width="1.15" height="1.9" fill="#2a5a95"/></pattern><pattern id="hLB" patternUnits="userSpaceOnUse" width="1.9" height="1.9" patternTransform="rotate(45)"><rect width="1.9" height="1.9" fill="#fff"/><rect width="1.15" height="1.9" fill="#74b2d8"/></pattern><pattern id="hRD" patternUnits="userSpaceOnUse" width="1.9" height="1.9" patternTransform="rotate(45)"><rect width="1.9" height="1.9" fill="#fff"/><rect width="1.15" height="1.9" fill="#c8404f"/></pattern><linearGradient id="arrG" x1="0" y1="0" x2="0" y2="1"><stop offset="0" stop-color="#ff6a00"/><stop offset="0.3" stop-color="#f56000"/><stop offset="0.6" stop-color="#c04a08"/><stop offset="1" stop-color="#8a3306"/></linearGradient></defs>
<rect x="579.40" y="135.50" width="18.20" height="2.40" fill="url(#hDB)" stroke="#2a5a95" stroke-width="0.8"/>
<rect x="602.20" y="109.30" width="18.50" height="28.60" fill="url(#hLB)" stroke="#74b2d8" stroke-width="0.8"/>
<rect x="624.60" y="44.30" width="18.70" height="93.60" fill="url(#hRD)" stroke="#c8404f" stroke-width="0.8"/>
<line x1="611.3" y1="105.5" x2="611.3" y2="112" stroke="#74b2d8" stroke-width="0.9" />
<line x1="609.7" y1="105.5" x2="612.9" y2="105.5" stroke="#74b2d8" stroke-width="0.9" />
<line x1="633.4" y1="38.8" x2="633.4" y2="50" stroke="#c8404f" stroke-width="0.9" />
<line x1="631.9" y1="38.8" x2="634.9" y2="38.8" stroke="#c8404f" stroke-width="0.9" />
<rect x="571.6" y="6.7" width="26.1" height="8.6" fill="#1a4c87" />
<text x="600.6" y="13.5" font-size="7.0" font-weight="bold" text-anchor="start" fill="#111" color="#111" >Pt/C</text>
<rect x="571.6" y="18.15" width="26.1" height="8.6" fill="#6aacd3" />
<text x="600.6" y="24.95" font-size="7.0" font-weight="bold" text-anchor="start" fill="#111" color="#111" >HEA NPs</text>
<rect x="571.6" y="29.6" width="26.1" height="8.6" fill="#b52035" />
<text x="600.6" y="36.4" font-size="7.0" font-weight="bold" text-anchor="start" fill="#111" color="#111" >HEA NRs</text>
<path d="M499.5,116.8 C498.63,115.93 496.12,114.40 494.30,111.60 C492.48,108.80 490.07,104.43 488.60,100.00 C487.13,95.57 486.13,89.67 485.50,85.00 C484.87,80.33 484.67,75.75 484.80,72.00 C484.93,68.25 485.45,65.93 486.30,62.50 C487.15,59.07 488.40,54.78 489.90,51.40 C491.40,48.02 493.62,44.67 495.30,42.20 C496.98,39.73 498.38,38.07 500.00,36.60 C501.62,35.13 503.13,34.15 505.00,33.40 C506.87,32.65 509.18,32.22 511.20,32.10 C513.22,31.98 515.37,32.33 517.10,32.70 C518.83,33.07 520.85,34.03 521.60,34.30 L522.7,29.6 L525.9,43.2 L516.2,48.5 L517.9,44.5 C517.40,44.18 516.27,43.10 514.90,42.60 C513.53,42.10 511.53,41.57 509.70,41.50 C507.87,41.43 505.82,41.33 503.90,42.20 C501.98,43.07 500.10,44.77 498.20,46.70 C496.30,48.63 494.03,51.33 492.50,53.80 C490.97,56.27 489.82,58.80 489.00,61.50 C488.18,64.20 487.67,67.25 487.60,70.00 C487.53,72.75 488.17,75.33 488.60,78.00 C489.03,80.67 489.20,82.92 490.20,86.00 C491.20,89.08 492.55,92.98 494.60,96.50 C496.65,100.02 501.18,105.33 502.50,107.10 Z" fill="url(#arrG)"/>
<g transform="translate(93.4,18.454) scale(1,0.8899)"><path d="M499.5,116.8 C498.63,115.93 496.12,114.40 494.30,111.60 C492.48,108.80 490.07,104.43 488.60,100.00 C487.13,95.57 486.13,89.67 485.50,85.00 C484.87,80.33 484.67,75.75 484.80,72.00 C484.93,68.25 485.45,65.93 486.30,62.50 C487.15,59.07 488.40,54.78 489.90,51.40 C491.40,48.02 493.62,44.67 495.30,42.20 C496.98,39.73 498.38,38.07 500.00,36.60 C501.62,35.13 503.13,34.15 505.00,33.40 C506.87,32.65 509.18,32.22 511.20,32.10 C513.22,31.98 515.37,32.33 517.10,32.70 C518.83,33.07 520.85,34.03 521.60,34.30 L522.7,29.6 L525.9,43.2 L516.2,48.5 L517.9,44.5 C517.40,44.18 516.27,43.10 514.90,42.60 C513.53,42.10 511.53,41.57 509.70,41.50 C507.87,41.43 505.82,41.33 503.90,42.20 C501.98,43.07 500.10,44.77 498.20,46.70 C496.30,48.63 494.03,51.33 492.50,53.80 C490.97,56.27 489.82,58.80 489.00,61.50 C488.18,64.20 487.67,67.25 487.60,70.00 C487.53,72.75 488.17,75.33 488.60,78.00 C489.03,80.67 489.20,82.92 490.20,86.00 C491.20,89.08 492.55,92.98 494.60,96.50 C496.65,100.02 501.18,105.33 502.50,107.10 Z" fill="url(#arrG)"/></g>
<text x="491.1" y="59.6" font-size="7.0" font-weight="bold" text-anchor="start" fill="#111" color="#111" ><tspan font-weight="normal" font-size="9.6" stroke-width="0.2" dy="0.9">×</tspan><tspan dx="-0.1" dy="-0.9">38.9</tspan></text>
<text x="583.9" y="72.6" font-size="7.0" font-weight="bold" text-anchor="start" fill="#111" color="#111" ><tspan font-weight="normal" font-size="9.6" stroke-width="0.2" dy="0.9">×</tspan><tspan dx="-0.1" dy="-0.9">35.6</tspan></text>
<rect x="30.5" y="179.35" width="181.2" height="134.85" fill="none" stroke="#1f1f1f" stroke-width="1.15"/>
<line x1="27.9" y1="188.98" x2="30.5" y2="188.98" stroke="#1f1f1f" stroke-width="1.1" />
<text x="26.1" y="191.53" font-size="7.4" font-weight="bold" text-anchor="end" fill="#111" color="#111" >0</text>
<line x1="29" y1="208.25" x2="30.5" y2="208.25" stroke="#1f1f1f" stroke-width="1.1" />
<line x1="27.9" y1="227.51" x2="30.5" y2="227.51" stroke="#1f1f1f" stroke-width="1.1" />
<text x="26.1" y="230.06" font-size="7.4" font-weight="bold" text-anchor="end" fill="#111" color="#111" >-2</text>
<line x1="29" y1="246.77" x2="30.5" y2="246.77" stroke="#1f1f1f" stroke-width="1.1" />
<line x1="27.9" y1="266.04" x2="30.5" y2="266.04" stroke="#1f1f1f" stroke-width="1.1" />
<text x="26.1" y="268.59" font-size="7.4" font-weight="bold" text-anchor="end" fill="#111" color="#111" >-4</text>
<line x1="29" y1="285.3" x2="30.5" y2="285.3" stroke="#1f1f1f" stroke-width="1.1" />
<line x1="27.9" y1="304.57" x2="30.5" y2="304.57" stroke="#1f1f1f" stroke-width="1.1" />
<text x="26.1" y="307.12" font-size="7.4" font-weight="bold" text-anchor="end" fill="#111" color="#111" >-6</text>
<line x1="30.5" y1="314.2" x2="30.5" y2="316.8" stroke="#1f1f1f" stroke-width="1.1" />
<text x="30.5" y="323.8" font-size="7.4" font-weight="bold" text-anchor="middle" fill="#111" color="#111" >0.2</text>
<line x1="50.63" y1="314.2" x2="50.63" y2="315.7" stroke="#1f1f1f" stroke-width="1.1" />
<line x1="70.77" y1="314.2" x2="70.77" y2="316.8" stroke="#1f1f1f" stroke-width="1.1" />
<text x="70.77" y="323.8" font-size="7.4" font-weight="bold" text-anchor="middle" fill="#111" color="#111" >0.4</text>
<line x1="90.9" y1="314.2" x2="90.9" y2="315.7" stroke="#1f1f1f" stroke-width="1.1" />
<line x1="111.03" y1="314.2" x2="111.03" y2="316.8" stroke="#1f1f1f" stroke-width="1.1" />
<text x="111.03" y="323.8" font-size="7.4" font-weight="bold" text-anchor="middle" fill="#111" color="#111" >0.6</text>
<line x1="131.17" y1="314.2" x2="131.17" y2="315.7" stroke="#1f1f1f" stroke-width="1.1" />
<line x1="151.3" y1="314.2" x2="151.3" y2="316.8" stroke="#1f1f1f" stroke-width="1.1" />
<text x="151.3" y="323.8" font-size="7.4" font-weight="bold" text-anchor="middle" fill="#111" color="#111" >0.8</text>
<line x1="171.43" y1="314.2" x2="171.43" y2="315.7" stroke="#1f1f1f" stroke-width="1.1" />
<line x1="191.57" y1="314.2" x2="191.57" y2="316.8" stroke="#1f1f1f" stroke-width="1.1" />
<text x="191.57" y="323.8" font-size="7.4" font-weight="bold" text-anchor="middle" fill="#111" color="#111" >1.0</text>
<line x1="211.7" y1="314.2" x2="211.7" y2="315.7" stroke="#1f1f1f" stroke-width="1.1" />
<text x="121" y="333.7" font-size="9.6" font-weight="bold" text-anchor="middle" fill="#111" color="#111" >Potential-iR (V <tspan font-style="italic">vs.</tspan> RHE)</text>
<text transform="translate(11.4,246.3) rotate(-90)" font-size="10.0" font-weight="bold" text-anchor="middle" fill="#111" color="#111"><tspan font-style="italic">j</tspan> (mA cm<tspan font-size="6.2" dy="-3.8">-2</tspan><tspan dy="3.8">)</tspan></text>
<text x="5.2" y="183.6" font-size="11.6" font-weight="normal" text-anchor="start" fill="#111" color="#111" >d</text>
<line x1="41.8" y1="192.5" x2="60" y2="192.5" stroke="#c4283c" stroke-width="1.3" />
<text x="62.1" y="195.1" font-size="7.4" font-weight="bold" text-anchor="start" fill="#111" color="#111" >1 cycle</text>
<line x1="41.8" y1="202.2" x2="60" y2="202.2" stroke="#f6b99c" stroke-width="1.3" />
<text x="62.1" y="204.8" font-size="7.4" font-weight="bold" text-anchor="start" fill="#111" color="#111" >10 k cycles</text>
<line x1="41.8" y1="211.9" x2="60" y2="211.9" stroke="#cfe3ef" stroke-width="1.3" />
<text x="62.1" y="214.5" font-size="7.4" font-weight="bold" text-anchor="start" fill="#111" color="#111" >20 k cycles</text>
<line x1="41.8" y1="221.6" x2="60" y2="221.6" stroke="#6aaed6" stroke-width="1.3" />
<text x="62.1" y="224.2" font-size="7.4" font-weight="bold" text-anchor="start" fill="#111" color="#111" >30 k cycles</text>
<line x1="41.8" y1="231.3" x2="60" y2="231.3" stroke="#2b5c9a" stroke-width="1.3" />
<text x="62.1" y="233.9" font-size="7.4" font-weight="bold" text-anchor="start" fill="#111" color="#111" >50 k cycles</text>
<path d="M30.81,301.14 L31.68,301.22 L32.56,301.30 L33.43,301.37 L34.30,301.45 L35.18,301.52 L36.05,301.59 L36.93,301.66 L37.81,301.72 L38.68,301.79 L39.56,301.85 L40.43,301.90 L41.31,301.96 L42.19,302.02 L43.06,302.07 L43.94,302.12 L44.82,302.17 L45.70,302.21 L46.57,302.26 L47.45,302.30 L48.33,302.34 L49.21,302.38 L50.09,302.42 L50.96,302.46 L51.84,302.49 L52.72,302.52 L53.60,302.56 L54.48,302.59 L55.36,302.62 L56.24,302.64 L57.11,302.67 L57.99,302.69 L58.87,302.72 L59.75,302.74 L60.63,302.76 L61.51,302.78 L62.39,302.80 L63.27,302.82 L64.15,302.83 L65.03,302.85 L65.91,302.86 L66.79,302.88 L67.67,302.89 L68.55,302.90 L69.43,302.91 L70.31,302.92 L71.18,302.93 L72.06,302.94 L72.94,302.95 L73.82,302.96 L74.70,302.96 L75.58,302.97 L76.46,302.97 L77.34,302.98 L78.22,302.99 L79.10,302.99 L79.98,302.99 L80.86,303.00 L81.74,303.00 L82.62,303.01 L83.50,303.01 L84.37,303.01 L85.25,303.02 L86.13,303.02 L87.01,303.02 L87.89,303.03 L88.77,303.03 L89.64,303.03 L90.52,303.04 L91.40,303.04 L92.28,303.04 L93.16,303.05 L94.03,303.05 L94.91,303.05 L95.79,303.05 L96.66,303.06 L97.54,303.06 L98.42,303.06 L99.30,303.06 L100.17,303.06 L101.05,303.05 L101.92,303.05 L102.80,303.05 L103.68,303.04 L104.55,303.03 L105.43,303.03 L106.30,303.02 L107.18,303.00 L108.06,302.99 L108.93,302.98 L109.81,302.96 L110.68,302.94 L111.56,302.92 L112.43,302.90 L113.31,302.87 L114.18,302.84 L115.06,302.81 L115.93,302.78 L116.81,302.74 L117.68,302.70 L118.56,302.66 L119.43,302.62 L120.31,302.57 L121.18,302.52 L122.05,302.47 L122.93,302.41 L123.80,302.35 L124.68,302.28 L125.55,302.22 L126.42,302.15 L127.30,302.07 L128.17,301.99 L129.04,301.91 L129.92,301.82 L130.79,301.73 L131.67,301.63 L132.54,301.53 L133.41,301.43 L134.29,301.32 L135.16,301.21 L136.03,301.09 L136.91,300.97 L137.78,300.84 L138.65,300.71 L139.52,300.57 L140.40,300.42 L141.27,300.28 L142.14,300.12 L143.02,299.96 L143.89,299.80 L144.76,299.63 L145.64,299.45 L146.51,299.27 L147.38,299.08 L148.25,298.89 L149.13,298.69 L150.00,298.48 L150.87,298.27 L151.74,298.05 L152.61,297.82 L153.48,297.58 L154.34,297.34 L155.20,297.08 L156.06,296.82 L156.91,296.54 L157.75,296.26 L158.58,295.96 L159.41,295.65 L160.22,295.32 L161.03,294.98 L161.82,294.63 L162.60,294.26 L163.37,293.87 L164.12,293.47 L164.86,293.05 L165.59,292.61 L166.30,292.15 L166.99,291.68 L167.66,291.18 L168.31,290.66 L168.94,290.12 L169.55,289.56 L170.14,288.98 L170.71,288.38 L171.25,287.74 L171.77,287.09 L172.26,286.41 L172.73,285.70 L173.18,284.98 L173.60,284.23 L174.00,283.46 L174.38,282.67 L174.73,281.86 L175.08,281.04 L175.40,280.21 L175.71,279.36 L176.00,278.50 L176.27,277.64 L176.54,276.76 L176.79,275.88 L177.03,275.00 L177.27,274.12 L177.49,273.23 L177.71,272.34 L177.92,271.46 L178.13,270.58 L178.33,269.70 L178.52,268.83 L178.71,267.95 L178.90,267.08 L179.08,266.21 L179.25,265.35 L179.43,264.48 L179.59,263.61 L179.75,262.74 L179.91,261.87 L180.06,261.01 L180.21,260.14 L180.35,259.27 L180.50,258.40 L180.63,257.53 L180.77,256.66 L180.90,255.79 L181.02,254.92 L181.15,254.05 L181.27,253.18 L181.38,252.31 L181.50,251.44 L181.61,250.57 L181.73,249.70 L181.84,248.83 L181.94,247.96 L182.05,247.09 L182.15,246.22 L182.26,245.34 L182.36,244.47 L182.46,243.60 L182.56,242.73 L182.66,241.86 L182.76,240.99 L182.86,240.12 L182.96,239.25 L183.06,238.38 L183.16,237.51 L183.26,236.64 L183.36,235.77 L183.47,234.90 L183.57,234.03 L183.67,233.16 L183.78,232.29 L183.89,231.42 L184.00,230.55 L184.11,229.68 L184.22,228.82 L184.34,227.95 L184.45,227.08 L184.58,226.21 L184.70,225.35 L184.82,224.48 L184.95,223.61 L185.09,222.75 L185.22,221.88 L185.36,221.01 L185.51,220.15 L185.65,219.28 L185.81,218.42 L185.96,217.56 L186.12,216.69 L186.29,215.83 L186.46,214.97 L186.63,214.11 L186.81,213.25 L187.00,212.39 L187.19,211.52 L187.39,210.67 L187.59,209.81 L187.80,208.95 L188.02,208.09 L188.24,207.23 L188.47,206.38 L188.70,205.52 L188.94,204.66 L189.19,203.81 L189.45,202.96 L189.72,202.10 L189.99,201.25 L190.27,200.41 L190.57,199.57 L190.87,198.73 L191.19,197.91 L191.53,197.10 L191.88,196.30 L192.25,195.51 L192.64,194.74 L193.05,193.99 L193.47,193.25 L193.93,192.54 L194.40,191.85 L194.90,191.18 L195.42,190.54 L195.97,189.93 L196.55,189.34 L197.16,188.79 L197.80,188.27 L198.48,187.78 L199.18,187.33 L199.92,186.91 L200.69,186.54 L201.49,186.20 L202.32,185.90 L203.18,185.64 L204.06,185.42 L204.96,185.24 L205.89,185.11 L206.85,185.01 L207.82,184.97 L208.81,184.96 L209.82,185.00 L210.84,185.09 L211.88,185.23" fill="none" stroke="#c6dced" stroke-width="1.4"/>
<path d="M30.80,302.06 L31.68,302.12 L32.57,302.19 L33.45,302.25 L34.33,302.31 L35.21,302.37 L36.09,302.43 L36.97,302.48 L37.86,302.54 L38.74,302.59 L39.62,302.65 L40.50,302.70 L41.39,302.75 L42.27,302.80 L43.15,302.85 L44.03,302.89 L44.91,302.94 L45.80,302.98 L46.68,303.03 L47.56,303.07 L48.44,303.11 L49.33,303.15 L50.21,303.19 L51.09,303.23 L51.97,303.26 L52.86,303.30 L53.74,303.34 L54.62,303.37 L55.51,303.40 L56.39,303.44 L57.27,303.47 L58.15,303.50 L59.04,303.53 L59.92,303.56 L60.80,303.58 L61.69,303.61 L62.57,303.64 L63.45,303.66 L64.33,303.69 L65.22,303.71 L66.10,303.74 L66.98,303.76 L67.87,303.78 L68.75,303.80 L69.63,303.83 L70.52,303.85 L71.40,303.87 L72.28,303.89 L73.17,303.90 L74.05,303.92 L74.93,303.94 L75.81,303.96 L76.70,303.98 L77.58,303.99 L78.46,304.01 L79.35,304.03 L80.23,304.04 L81.11,304.06 L82.00,304.07 L82.88,304.09 L83.76,304.10 L84.65,304.11 L85.53,304.13 L86.41,304.14 L87.30,304.16 L88.18,304.17 L89.06,304.18 L89.95,304.19 L90.83,304.21 L91.71,304.22 L92.60,304.23 L93.48,304.25 L94.36,304.26 L95.25,304.27 L96.13,304.28 L97.01,304.29 L97.90,304.30 L98.78,304.31 L99.66,304.32 L100.55,304.33 L101.43,304.33 L102.31,304.34 L103.19,304.34 L104.08,304.35 L104.96,304.35 L105.84,304.35 L106.72,304.34 L107.61,304.34 L108.49,304.33 L109.37,304.32 L110.25,304.31 L111.14,304.30 L112.02,304.28 L112.90,304.26 L113.78,304.24 L114.66,304.22 L115.54,304.19 L116.42,304.16 L117.31,304.13 L118.19,304.09 L119.07,304.05 L119.95,304.01 L120.83,303.96 L121.71,303.91 L122.59,303.85 L123.47,303.79 L124.35,303.73 L125.23,303.67 L126.11,303.59 L126.98,303.52 L127.86,303.44 L128.74,303.35 L129.62,303.27 L130.50,303.17 L131.38,303.07 L132.25,302.97 L133.13,302.86 L134.01,302.74 L134.88,302.63 L135.76,302.50 L136.64,302.37 L137.51,302.23 L138.39,302.09 L139.26,301.94 L140.14,301.79 L141.01,301.63 L141.89,301.46 L142.76,301.29 L143.64,301.11 L144.51,300.92 L145.38,300.73 L146.26,300.53 L147.13,300.32 L148.00,300.10 L148.87,299.88 L149.74,299.65 L150.62,299.42 L151.49,299.17 L152.35,298.92 L153.22,298.66 L154.08,298.39 L154.94,298.11 L155.80,297.82 L156.64,297.53 L157.49,297.22 L158.32,296.89 L159.15,296.56 L159.97,296.22 L160.78,295.86 L161.58,295.49 L162.36,295.10 L163.14,294.71 L163.90,294.29 L164.65,293.87 L165.39,293.42 L166.11,292.97 L166.82,292.49 L167.51,292.00 L168.18,291.49 L168.83,290.97 L169.47,290.43 L170.09,289.87 L170.68,289.29 L171.26,288.69 L171.81,288.07 L172.34,287.43 L172.84,286.77 L173.33,286.10 L173.79,285.40 L174.22,284.68 L174.64,283.94 L175.03,283.19 L175.41,282.42 L175.76,281.63 L176.10,280.83 L176.42,280.02 L176.72,279.19 L177.01,278.35 L177.28,277.50 L177.54,276.64 L177.78,275.77 L178.01,274.90 L178.23,274.01 L178.44,273.12 L178.63,272.22 L178.82,271.31 L179.00,270.40 L179.17,269.49 L179.33,268.58 L179.49,267.66 L179.64,266.74 L179.78,265.82 L179.93,264.91 L180.06,263.99 L180.20,263.08 L180.33,262.17 L180.46,261.26 L180.59,260.36 L180.72,259.45 L180.84,258.55 L180.96,257.66 L181.08,256.76 L181.20,255.87 L181.32,254.97 L181.44,254.08 L181.55,253.20 L181.67,252.31 L181.78,251.43 L181.89,250.54 L182.00,249.66 L182.11,248.78 L182.22,247.91 L182.33,247.03 L182.44,246.16 L182.55,245.28 L182.65,244.41 L182.76,243.54 L182.87,242.67 L182.98,241.80 L183.08,240.93 L183.19,240.07 L183.30,239.20 L183.41,238.34 L183.52,237.48 L183.63,236.61 L183.74,235.75 L183.85,234.89 L183.97,234.03 L184.08,233.17 L184.20,232.31 L184.31,231.45 L184.43,230.59 L184.55,229.73 L184.67,228.87 L184.80,228.01 L184.92,227.16 L185.05,226.30 L185.18,225.44 L185.31,224.58 L185.45,223.72 L185.58,222.87 L185.72,222.01 L185.86,221.15 L186.01,220.29 L186.16,219.43 L186.31,218.57 L186.46,217.71 L186.62,216.85 L186.78,215.98 L186.94,215.12 L187.11,214.26 L187.28,213.39 L187.45,212.53 L187.63,211.66 L187.81,210.79 L188.00,209.92 L188.19,209.05 L188.38,208.18 L188.58,207.31 L188.79,206.44 L188.99,205.56 L189.21,204.69 L189.42,203.81 L189.65,202.93 L189.88,202.05 L190.11,201.17 L190.35,200.29 L190.61,199.42 L190.88,198.55 L191.16,197.70 L191.46,196.85 L191.77,196.02 L192.11,195.20 L192.47,194.40 L192.85,193.63 L193.26,192.87 L193.69,192.13 L194.16,191.42 L194.65,190.74 L195.18,190.09 L195.74,189.47 L196.34,188.89 L196.97,188.34 L197.65,187.83 L198.37,187.36 L199.13,186.93 L199.93,186.54 L200.76,186.19 L201.63,185.89 L202.52,185.62 L203.43,185.39 L204.35,185.19 L205.29,185.04 L206.22,184.91 L207.15,184.82 L208.08,184.76 L209.00,184.73 L209.89,184.73 L210.76,184.76 L211.61,184.82" fill="none" stroke="#f6b99c" stroke-width="1.3"/>
<path d="M30.80,300.70 L31.67,300.81 L32.54,300.92 L33.41,301.03 L34.29,301.13 L35.16,301.23 L36.03,301.32 L36.90,301.41 L37.77,301.49 L38.64,301.57 L39.52,301.65 L40.39,301.72 L41.26,301.79 L42.13,301.85 L43.01,301.91 L43.88,301.97 L44.75,302.02 L45.62,302.07 L46.50,302.11 L47.37,302.16 L48.24,302.20 L49.11,302.23 L49.99,302.27 L50.86,302.30 L51.73,302.33 L52.61,302.35 L53.48,302.37 L54.35,302.39 L55.23,302.41 L56.10,302.43 L56.97,302.44 L57.85,302.45 L58.72,302.46 L59.60,302.47 L60.47,302.47 L61.34,302.48 L62.22,302.48 L63.09,302.48 L63.96,302.48 L64.84,302.47 L65.71,302.47 L66.59,302.47 L67.46,302.46 L68.33,302.45 L69.21,302.44 L70.08,302.43 L70.95,302.43 L71.83,302.42 L72.70,302.40 L73.58,302.39 L74.45,302.38 L75.32,302.37 L76.20,302.36 L77.07,302.35 L77.95,302.33 L78.82,302.32 L79.69,302.31 L80.57,302.30 L81.44,302.29 L82.31,302.28 L83.19,302.27 L84.06,302.26 L84.94,302.25 L85.81,302.24 L86.68,302.24 L87.56,302.23 L88.43,302.23 L89.30,302.22 L90.18,302.22 L91.05,302.22 L91.92,302.22 L92.80,302.22 L93.67,302.22 L94.54,302.22 L95.41,302.22 L96.29,302.22 L97.16,302.22 L98.03,302.22 L98.91,302.21 L99.78,302.21 L100.65,302.21 L101.52,302.21 L102.40,302.21 L103.27,302.20 L104.14,302.20 L105.01,302.19 L105.88,302.18 L106.76,302.17 L107.63,302.16 L108.50,302.15 L109.37,302.14 L110.24,302.12 L111.11,302.11 L111.99,302.09 L112.86,302.07 L113.73,302.04 L114.60,302.02 L115.47,301.99 L116.34,301.96 L117.21,301.93 L118.08,301.89 L118.95,301.85 L119.82,301.81 L120.69,301.76 L121.56,301.71 L122.43,301.66 L123.30,301.61 L124.17,301.55 L125.04,301.49 L125.91,301.42 L126.78,301.35 L127.65,301.27 L128.52,301.20 L129.39,301.11 L130.26,301.03 L131.13,300.93 L132.00,300.84 L132.86,300.74 L133.73,300.63 L134.60,300.52 L135.47,300.40 L136.34,300.28 L137.20,300.16 L138.07,300.03 L138.94,299.89 L139.81,299.75 L140.67,299.60 L141.54,299.44 L142.41,299.28 L143.27,299.12 L144.14,298.94 L145.01,298.77 L145.87,298.58 L146.74,298.39 L147.60,298.19 L148.47,297.99 L149.33,297.77 L150.20,297.56 L151.06,297.33 L151.93,297.10 L152.79,296.85 L153.65,296.60 L154.50,296.34 L155.35,296.07 L156.20,295.79 L157.04,295.50 L157.87,295.20 L158.69,294.89 L159.50,294.56 L160.31,294.22 L161.10,293.86 L161.88,293.49 L162.65,293.11 L163.40,292.71 L164.14,292.30 L164.87,291.87 L165.58,291.42 L166.27,290.95 L166.95,290.47 L167.60,289.96 L168.24,289.44 L168.85,288.90 L169.45,288.34 L170.02,287.75 L170.57,287.15 L171.09,286.52 L171.59,285.87 L172.07,285.20 L172.52,284.51 L172.95,283.80 L173.36,283.06 L173.74,282.31 L174.11,281.55 L174.46,280.77 L174.79,279.97 L175.10,279.16 L175.40,278.33 L175.68,277.50 L175.94,276.65 L176.19,275.79 L176.43,274.92 L176.66,274.05 L176.88,273.16 L177.08,272.28 L177.28,271.38 L177.47,270.48 L177.65,269.58 L177.83,268.68 L178.00,267.77 L178.16,266.86 L178.32,265.96 L178.48,265.05 L178.64,264.15 L178.79,263.26 L178.94,262.36 L179.10,261.47 L179.25,260.58 L179.40,259.70 L179.55,258.82 L179.70,257.94 L179.85,257.07 L179.99,256.20 L180.14,255.33 L180.29,254.46 L180.43,253.60 L180.58,252.73 L180.72,251.87 L180.86,251.02 L181.00,250.16 L181.14,249.31 L181.28,248.45 L181.42,247.60 L181.56,246.75 L181.70,245.91 L181.84,245.06 L181.97,244.21 L182.11,243.37 L182.24,242.52 L182.37,241.68 L182.50,240.83 L182.64,239.99 L182.77,239.14 L182.90,238.30 L183.03,237.45 L183.15,236.61 L183.28,235.77 L183.41,234.92 L183.53,234.07 L183.66,233.23 L183.78,232.38 L183.90,231.53 L184.03,230.68 L184.15,229.83 L184.27,228.97 L184.39,228.12 L184.51,227.26 L184.63,226.40 L184.74,225.54 L184.86,224.68 L184.98,223.81 L185.09,222.94 L185.21,222.07 L185.32,221.20 L185.43,220.32 L185.55,219.44 L185.66,218.56 L185.78,217.68 L185.90,216.80 L186.03,215.92 L186.15,215.04 L186.29,214.15 L186.43,213.27 L186.57,212.39 L186.73,211.51 L186.89,210.64 L187.06,209.76 L187.24,208.89 L187.43,208.02 L187.64,207.15 L187.85,206.29 L188.08,205.43 L188.32,204.57 L188.57,203.72 L188.84,202.88 L189.13,202.04 L189.43,201.21 L189.75,200.38 L190.09,199.57 L190.44,198.77 L190.81,197.97 L191.20,197.19 L191.60,196.42 L192.03,195.67 L192.47,194.94 L192.94,194.22 L193.42,193.52 L193.93,192.84 L194.45,192.19 L195.00,191.55 L195.57,190.94 L196.16,190.36 L196.77,189.80 L197.41,189.26 L198.07,188.76 L198.75,188.28 L199.45,187.84 L200.18,187.43 L200.94,187.05 L201.72,186.71 L202.52,186.40 L203.34,186.12 L204.19,185.89 L205.06,185.69 L205.96,185.54 L206.87,185.42 L207.81,185.35 L208.78,185.32 L209.76,185.34 L210.76,185.40 L211.79,185.51" fill="none" stroke="#6aaed6" stroke-width="1.2"/>
<path d="M30.80,300.46 L31.67,300.60 L32.54,300.73 L33.40,300.85 L34.27,300.97 L35.14,301.08 L36.00,301.19 L36.87,301.29 L37.74,301.38 L38.60,301.47 L39.47,301.55 L40.34,301.63 L41.21,301.70 L42.08,301.77 L42.94,301.84 L43.81,301.90 L44.68,301.95 L45.55,302.00 L46.42,302.05 L47.29,302.09 L48.16,302.13 L49.03,302.16 L49.90,302.19 L50.77,302.22 L51.64,302.24 L52.51,302.26 L53.38,302.28 L54.25,302.29 L55.12,302.31 L55.99,302.31 L56.86,302.32 L57.73,302.32 L58.60,302.32 L59.47,302.32 L60.34,302.31 L61.21,302.31 L62.08,302.30 L62.95,302.29 L63.82,302.28 L64.69,302.26 L65.56,302.25 L66.43,302.23 L67.31,302.21 L68.18,302.20 L69.05,302.18 L69.92,302.16 L70.79,302.13 L71.66,302.11 L72.53,302.09 L73.40,302.07 L74.27,302.05 L75.14,302.02 L76.01,302.00 L76.88,301.98 L77.76,301.95 L78.63,301.93 L79.50,301.91 L80.37,301.89 L81.24,301.87 L82.11,301.85 L82.98,301.83 L83.85,301.82 L84.72,301.80 L85.59,301.79 L86.46,301.78 L87.33,301.76 L88.20,301.75 L89.07,301.75 L89.93,301.74 L90.80,301.73 L91.67,301.72 L92.54,301.72 L93.41,301.71 L94.28,301.71 L95.15,301.70 L96.02,301.70 L96.89,301.69 L97.75,301.69 L98.62,301.68 L99.49,301.68 L100.36,301.67 L101.23,301.67 L102.09,301.66 L102.96,301.65 L103.83,301.64 L104.70,301.64 L105.56,301.62 L106.43,301.61 L107.30,301.60 L108.17,301.59 L109.03,301.57 L109.90,301.55 L110.77,301.53 L111.63,301.51 L112.50,301.49 L113.37,301.46 L114.23,301.44 L115.10,301.41 L115.97,301.37 L116.83,301.34 L117.70,301.30 L118.56,301.26 L119.43,301.22 L120.29,301.17 L121.16,301.12 L122.03,301.07 L122.89,301.02 L123.76,300.96 L124.62,300.89 L125.49,300.83 L126.35,300.76 L127.21,300.68 L128.08,300.60 L128.94,300.52 L129.81,300.44 L130.67,300.34 L131.54,300.25 L132.40,300.15 L133.26,300.05 L134.13,299.94 L134.99,299.82 L135.86,299.70 L136.72,299.58 L137.58,299.45 L138.45,299.31 L139.31,299.17 L140.17,299.03 L141.03,298.87 L141.90,298.72 L142.76,298.55 L143.62,298.38 L144.48,298.21 L145.35,298.03 L146.21,297.84 L147.07,297.64 L147.93,297.44 L148.80,297.23 L149.66,297.02 L150.52,296.80 L151.38,296.57 L152.24,296.33 L153.10,296.09 L153.95,295.83 L154.80,295.57 L155.64,295.29 L156.48,295.01 L157.31,294.71 L158.14,294.40 L158.95,294.08 L159.76,293.75 L160.55,293.40 L161.34,293.04 L162.11,292.66 L162.86,292.27 L163.61,291.86 L164.33,291.44 L165.04,291.00 L165.74,290.54 L166.41,290.06 L167.07,289.56 L167.71,289.05 L168.33,288.51 L168.92,287.95 L169.49,287.37 L170.04,286.77 L170.57,286.15 L171.07,285.50 L171.54,284.84 L172.00,284.15 L172.43,283.44 L172.83,282.71 L173.22,281.97 L173.59,281.21 L173.94,280.43 L174.27,279.63 L174.58,278.83 L174.88,278.01 L175.16,277.17 L175.43,276.33 L175.68,275.48 L175.92,274.61 L176.15,273.74 L176.37,272.87 L176.58,271.98 L176.78,271.09 L176.97,270.20 L177.16,269.30 L177.33,268.40 L177.51,267.50 L177.68,266.60 L177.84,265.70 L178.00,264.80 L178.16,263.91 L178.32,263.02 L178.48,262.13 L178.64,261.24 L178.79,260.36 L178.95,259.48 L179.10,258.61 L179.26,257.74 L179.41,256.87 L179.56,256.00 L179.72,255.14 L179.87,254.28 L180.02,253.42 L180.16,252.56 L180.31,251.70 L180.46,250.85 L180.61,250.00 L180.75,249.15 L180.90,248.30 L181.04,247.46 L181.18,246.61 L181.32,245.77 L181.46,244.92 L181.60,244.08 L181.74,243.24 L181.88,242.40 L182.02,241.56 L182.16,240.72 L182.29,239.88 L182.43,239.04 L182.56,238.20 L182.69,237.35 L182.82,236.51 L182.95,235.67 L183.08,234.83 L183.21,233.99 L183.34,233.14 L183.47,232.30 L183.59,231.45 L183.72,230.61 L183.84,229.76 L183.97,228.91 L184.09,228.06 L184.21,227.20 L184.33,226.35 L184.45,225.49 L184.57,224.63 L184.69,223.77 L184.80,222.90 L184.92,222.03 L185.03,221.16 L185.15,220.29 L185.26,219.42 L185.38,218.54 L185.50,217.66 L185.62,216.79 L185.74,215.91 L185.88,215.03 L186.01,214.15 L186.15,213.27 L186.30,212.40 L186.46,211.53 L186.62,210.65 L186.80,209.78 L186.98,208.92 L187.18,208.05 L187.39,207.19 L187.61,206.34 L187.84,205.49 L188.09,204.64 L188.36,203.80 L188.64,202.96 L188.93,202.14 L189.24,201.31 L189.57,200.50 L189.92,199.69 L190.29,198.90 L190.67,198.12 L191.08,197.35 L191.50,196.59 L191.94,195.85 L192.40,195.13 L192.88,194.43 L193.37,193.74 L193.89,193.07 L194.43,192.42 L194.99,191.80 L195.58,191.20 L196.18,190.62 L196.80,190.07 L197.45,189.55 L198.12,189.05 L198.81,188.58 L199.52,188.15 L200.26,187.74 L201.02,187.37 L201.80,187.03 L202.60,186.72 L203.43,186.45 L204.27,186.22 L205.14,186.03 L206.03,185.87 L206.93,185.75 L207.86,185.68 L208.81,185.64 L209.77,185.65 L210.76,185.70 L211.76,185.80" fill="none" stroke="#2b5c9a" stroke-width="1.25"/>
<path d="M30.77,300.31 L31.66,300.32 L32.55,300.34 L33.44,300.36 L34.33,300.38 L35.22,300.41 L36.11,300.43 L37.00,300.46 L37.89,300.48 L38.78,300.51 L39.66,300.54 L40.55,300.57 L41.44,300.60 L42.33,300.63 L43.22,300.67 L44.11,300.70 L44.99,300.74 L45.88,300.77 L46.77,300.81 L47.66,300.85 L48.54,300.89 L49.43,300.93 L50.32,300.97 L51.20,301.01 L52.09,301.05 L52.98,301.09 L53.86,301.13 L54.75,301.18 L55.63,301.22 L56.52,301.26 L57.40,301.31 L58.29,301.35 L59.18,301.40 L60.06,301.44 L60.95,301.49 L61.83,301.53 L62.72,301.58 L63.60,301.62 L64.49,301.66 L65.37,301.71 L66.25,301.75 L67.14,301.80 L68.02,301.84 L68.91,301.89 L69.79,301.93 L70.68,301.97 L71.56,302.02 L72.44,302.06 L73.33,302.10 L74.21,302.14 L75.10,302.18 L75.98,302.22 L76.86,302.26 L77.75,302.30 L78.63,302.34 L79.51,302.38 L80.40,302.42 L81.28,302.45 L82.16,302.49 L83.05,302.52 L83.93,302.55 L84.81,302.59 L85.70,302.62 L86.58,302.65 L87.46,302.68 L88.35,302.70 L89.23,302.73 L90.11,302.75 L91.00,302.78 L91.88,302.80 L92.76,302.82 L93.65,302.84 L94.53,302.86 L95.41,302.87 L96.29,302.89 L97.18,302.90 L98.06,302.91 L98.94,302.92 L99.83,302.93 L100.71,302.94 L101.60,302.94 L102.48,302.94 L103.36,302.94 L104.25,302.94 L105.13,302.94 L106.01,302.93 L106.90,302.92 L107.78,302.91 L108.66,302.90 L109.55,302.88 L110.43,302.87 L111.32,302.85 L112.20,302.83 L113.09,302.80 L113.97,302.78 L114.85,302.75 L115.74,302.72 L116.62,302.68 L117.51,302.64 L118.39,302.60 L119.28,302.56 L120.16,302.52 L121.05,302.47 L121.93,302.42 L122.82,302.36 L123.70,302.31 L124.59,302.25 L125.48,302.18 L126.36,302.12 L127.25,302.05 L128.13,301.98 L129.02,301.90 L129.91,301.82 L130.79,301.74 L131.68,301.66 L132.57,301.57 L133.46,301.48 L134.34,301.38 L135.23,301.28 L136.12,301.18 L137.01,301.07 L137.89,300.96 L138.78,300.85 L139.67,300.73 L140.56,300.61 L141.45,300.48 L142.34,300.36 L143.23,300.22 L144.12,300.09 L145.00,299.95 L145.89,299.80 L146.78,299.65 L147.67,299.50 L148.57,299.34 L149.46,299.18 L150.35,299.01 L151.24,298.84 L152.13,298.67 L153.02,298.49 L153.90,298.30 L154.78,298.10 L155.66,297.89 L156.53,297.68 L157.40,297.45 L158.26,297.22 L159.11,296.97 L159.95,296.70 L160.79,296.43 L161.61,296.14 L162.42,295.83 L163.22,295.51 L164.01,295.17 L164.78,294.81 L165.54,294.43 L166.28,294.04 L167.00,293.62 L167.71,293.18 L168.40,292.72 L169.07,292.24 L169.72,291.73 L170.35,291.19 L170.96,290.64 L171.55,290.05 L172.11,289.44 L172.65,288.80 L173.16,288.13 L173.65,287.43 L174.11,286.70 L174.54,285.94 L174.96,285.16 L175.34,284.35 L175.71,283.52 L176.05,282.67 L176.38,281.81 L176.69,280.92 L176.98,280.03 L177.25,279.12 L177.51,278.21 L177.76,277.29 L178.00,276.37 L178.22,275.44 L178.43,274.51 L178.64,273.59 L178.84,272.67 L179.03,271.76 L179.21,270.85 L179.40,269.96 L179.57,269.07 L179.75,268.19 L179.92,267.31 L180.08,266.44 L180.24,265.58 L180.40,264.71 L180.56,263.85 L180.71,262.99 L180.85,262.12 L181.00,261.26 L181.14,260.39 L181.27,259.53 L181.41,258.66 L181.54,257.79 L181.66,256.93 L181.79,256.06 L181.91,255.19 L182.03,254.32 L182.15,253.45 L182.27,252.58 L182.38,251.71 L182.49,250.84 L182.60,249.97 L182.71,249.10 L182.82,248.22 L182.92,247.35 L183.03,246.48 L183.13,245.61 L183.23,244.73 L183.34,243.86 L183.44,242.99 L183.54,242.11 L183.64,241.24 L183.74,240.36 L183.84,239.49 L183.94,238.61 L184.04,237.74 L184.14,236.86 L184.25,235.98 L184.35,235.11 L184.45,234.23 L184.55,233.35 L184.66,232.48 L184.77,231.60 L184.87,230.72 L184.98,229.84 L185.09,228.97 L185.21,228.09 L185.32,227.21 L185.44,226.33 L185.55,225.45 L185.67,224.57 L185.80,223.70 L185.92,222.82 L186.05,221.94 L186.18,221.06 L186.32,220.18 L186.45,219.30 L186.59,218.42 L186.74,217.54 L186.88,216.67 L187.03,215.79 L187.19,214.91 L187.35,214.03 L187.51,213.15 L187.68,212.27 L187.85,211.39 L188.02,210.51 L188.20,209.64 L188.39,208.76 L188.58,207.88 L188.77,207.00 L188.97,206.12 L189.18,205.24 L189.39,204.37 L189.61,203.49 L189.83,202.61 L190.06,201.74 L190.29,200.86 L190.54,199.99 L190.80,199.13 L191.06,198.27 L191.35,197.43 L191.65,196.59 L191.97,195.77 L192.30,194.96 L192.66,194.17 L193.03,193.40 L193.44,192.65 L193.86,191.92 L194.32,191.22 L194.80,190.54 L195.31,189.88 L195.85,189.26 L196.43,188.67 L197.04,188.10 L197.68,187.58 L198.36,187.09 L199.09,186.63 L199.85,186.22 L200.64,185.84 L201.46,185.51 L202.31,185.21 L203.19,184.95 L204.09,184.74 L205.01,184.56 L205.95,184.43 L206.90,184.34 L207.86,184.29 L208.84,184.29 L209.81,184.33 L210.80,184.41 L211.78,184.54" fill="none" stroke="#c4283c" stroke-width="1.3"/>
<line x1="165.4" y1="243.5" x2="176.5" y2="243.5" stroke="#000" stroke-width="1.0" />
<path d="M179.9,243.5 L175.6,241.7 L175.6,245.3 Z" fill="#000"/>
<line x1="189" y1="243.5" x2="201.1" y2="243.5" stroke="#000" stroke-width="1.0" />
<path d="M185.6,243.5 L189.9,241.7 L189.9,245.3 Z" fill="#000"/>
<text x="121.8" y="246" font-size="7.6" font-weight="bold" text-anchor="start" fill="#111" color="#111" ><tspan font-size="6.2">Δ</tspan>E = 10 mV</text>
<rect x="252" y="179.45" width="404.4" height="134.45" fill="none" stroke="#1f1f1f" stroke-width="1.15"/>
<line x1="249.4" y1="313.9" x2="252" y2="313.9" stroke="#1f1f1f" stroke-width="1.1" />
<text x="247.6" y="316.45" font-size="7.4" font-weight="bold" text-anchor="end" fill="#111" color="#111" >0.0</text>
<line x1="250.5" y1="302.7" x2="252" y2="302.7" stroke="#1f1f1f" stroke-width="1.1" />
<line x1="249.4" y1="291.49" x2="252" y2="291.49" stroke="#1f1f1f" stroke-width="1.1" />
<text x="247.6" y="294.04" font-size="7.4" font-weight="bold" text-anchor="end" fill="#111" color="#111" >0.2</text>
<line x1="250.5" y1="280.29" x2="252" y2="280.29" stroke="#1f1f1f" stroke-width="1.1" />
<line x1="249.4" y1="269.08" x2="252" y2="269.08" stroke="#1f1f1f" stroke-width="1.1" />
<text x="247.6" y="271.63" font-size="7.4" font-weight="bold" text-anchor="end" fill="#111" color="#111" >0.4</text>
<line x1="250.5" y1="257.88" x2="252" y2="257.88" stroke="#1f1f1f" stroke-width="1.1" />
<line x1="249.4" y1="246.67" x2="252" y2="246.67" stroke="#1f1f1f" stroke-width="1.1" />
<text x="247.6" y="249.22" font-size="7.4" font-weight="bold" text-anchor="end" fill="#111" color="#111" >0.6</text>
<line x1="250.5" y1="235.47" x2="252" y2="235.47" stroke="#1f1f1f" stroke-width="1.1" />
<line x1="249.4" y1="224.27" x2="252" y2="224.27" stroke="#1f1f1f" stroke-width="1.1" />
<text x="247.6" y="226.82" font-size="7.4" font-weight="bold" text-anchor="end" fill="#111" color="#111" >0.8</text>
<line x1="250.5" y1="213.06" x2="252" y2="213.06" stroke="#1f1f1f" stroke-width="1.1" />
<line x1="249.4" y1="201.86" x2="252" y2="201.86" stroke="#1f1f1f" stroke-width="1.1" />
<text x="247.6" y="204.41" font-size="7.4" font-weight="bold" text-anchor="end" fill="#111" color="#111" >1.0</text>
<line x1="250.5" y1="190.65" x2="252" y2="190.65" stroke="#1f1f1f" stroke-width="1.1" />
<line x1="249.4" y1="179.45" x2="252" y2="179.45" stroke="#1f1f1f" stroke-width="1.1" />
<text x="247.6" y="182" font-size="7.4" font-weight="bold" text-anchor="end" fill="#111" color="#111" >1.2</text>
<text x="225.2" y="182.6" font-size="11.6" font-weight="normal" text-anchor="start" fill="#111" color="#111" >e</text>
<text transform="translate(232.2,306.9) rotate(-90)" font-size="10.0" font-weight="bold" text-anchor="start" fill="#111" color="#111">Mass activity (A mg<tspan font-size="6.2" dy="-4.8" dx="0.8">-1</tspan><tspan font-size="6.2" dy="8.2" dx="-0.9">PGM</tspan><tspan dy="-3.4" dx="0.6">)</tspan></text>
<rect x="257.9" y="311.15" width="20.7" height="2.25" fill="#b42133" />
<rect x="283.55" y="311.55" width="20.7" height="1.85" fill="#f4b093" />
<rect x="309.2" y="312" width="20.7" height="1.4" fill="#b8d7e8" />
<rect x="334.85" y="312.56" width="20.7" height="0.84" fill="#6eabd0" />
<rect x="360.5" y="313.34" width="20.7" height="0.06" fill="#164a85" />
<rect x="392.9" y="295.36" width="20.7" height="18.04" fill="#b42133" />
<rect x="418.55" y="297.54" width="20.7" height="15.86" fill="#f4b093" />
<rect x="444.2" y="300.23" width="20.7" height="13.17" fill="#b8d7e8" />
<rect x="469.85" y="302.81" width="20.7" height="10.59" fill="#6eabd0" />
<rect x="495.5" y="304.88" width="20.7" height="8.52" fill="#164a85" />
<rect x="527.4" y="202.75" width="20.7" height="110.65" fill="#b42133" />
<rect x="553.05" y="206.34" width="20.7" height="107.06" fill="#f4b093" />
<rect x="578.7" y="218.78" width="20.7" height="94.62" fill="#b8d7e8" />
<rect x="604.35" y="227.18" width="20.7" height="86.22" fill="#6eabd0" />
<rect x="630" y="243.87" width="20.7" height="69.53" fill="#164a85" />
<rect x="265" y="189.3" width="17" height="7.6" fill="#b42133" />
<text x="284.6" y="195.7" font-size="7.4" font-weight="bold" text-anchor="start" fill="#111" color="#111" >1 cycle</text>
<rect x="265" y="199.02" width="17" height="7.6" fill="#f4b093" />
<text x="284.6" y="205.42" font-size="7.4" font-weight="bold" text-anchor="start" fill="#111" color="#111" >10 k cycles</text>
<rect x="265" y="208.74" width="17" height="7.6" fill="#b8d7e8" />
<text x="284.6" y="215.14" font-size="7.4" font-weight="bold" text-anchor="start" fill="#111" color="#111" >20 k cycles</text>
<rect x="265" y="218.46" width="17" height="7.6" fill="#6eabd0" />
<text x="284.6" y="224.86" font-size="7.4" font-weight="bold" text-anchor="start" fill="#111" color="#111" >30 k cycles</text>
<rect x="265" y="228.18" width="17" height="7.6" fill="#164a85" />
<text x="284.6" y="234.58" font-size="7.4" font-weight="bold" text-anchor="start" fill="#111" color="#111" >50 k cycles</text>
<line x1="267.2" y1="308" x2="366.7" y2="309.72" stroke="#000" stroke-width="1.05" />
<path d="M371.20,309.80 L365.67,311.70 L365.74,307.71 Z" fill="#111"/>
<line x1="405.3" y1="289.4" x2="502.03" y2="300.97" stroke="#000" stroke-width="1.05" />
<path d="M506.50,301.50 L500.80,302.83 L501.28,298.86 Z" fill="#111"/>
<line x1="540" y1="193.2" x2="639.17" y2="221.37" stroke="#000" stroke-width="1.05" />
<path d="M643.50,222.60 L637.66,223.02 L638.76,219.17 Z" fill="#111"/>
<text x="319.4" y="305.9" font-size="7.0" font-weight="bold" text-anchor="middle" fill="#111" color="#111" >20.8%</text>
<text x="456" y="291.9" font-size="7.0" font-weight="bold" text-anchor="middle" fill="#111" color="#111" >48.5%</text>
<text x="593.4" y="203.1" font-size="7.0" font-weight="bold" text-anchor="middle" fill="#111" color="#111" >62.5%</text>
<text x="652.5" y="192.1" font-size="7.0" font-weight="bold" text-anchor="end" fill="#111" color="#111" >@ 0.95 V</text>
<text x="318.5" y="326.1" font-size="9.6" font-weight="bold" text-anchor="middle" fill="#111" color="#111" >Pt/C</text>
<text x="453.6" y="326.5" font-size="9.6" font-weight="bold" text-anchor="middle" fill="#111" color="#111" >HEA NPs</text>
<text x="588.6" y="326.5" font-size="9.6" font-weight="bold" text-anchor="middle" fill="#111" color="#111" >HEA NRs</text>
</svg>
</body></html>
